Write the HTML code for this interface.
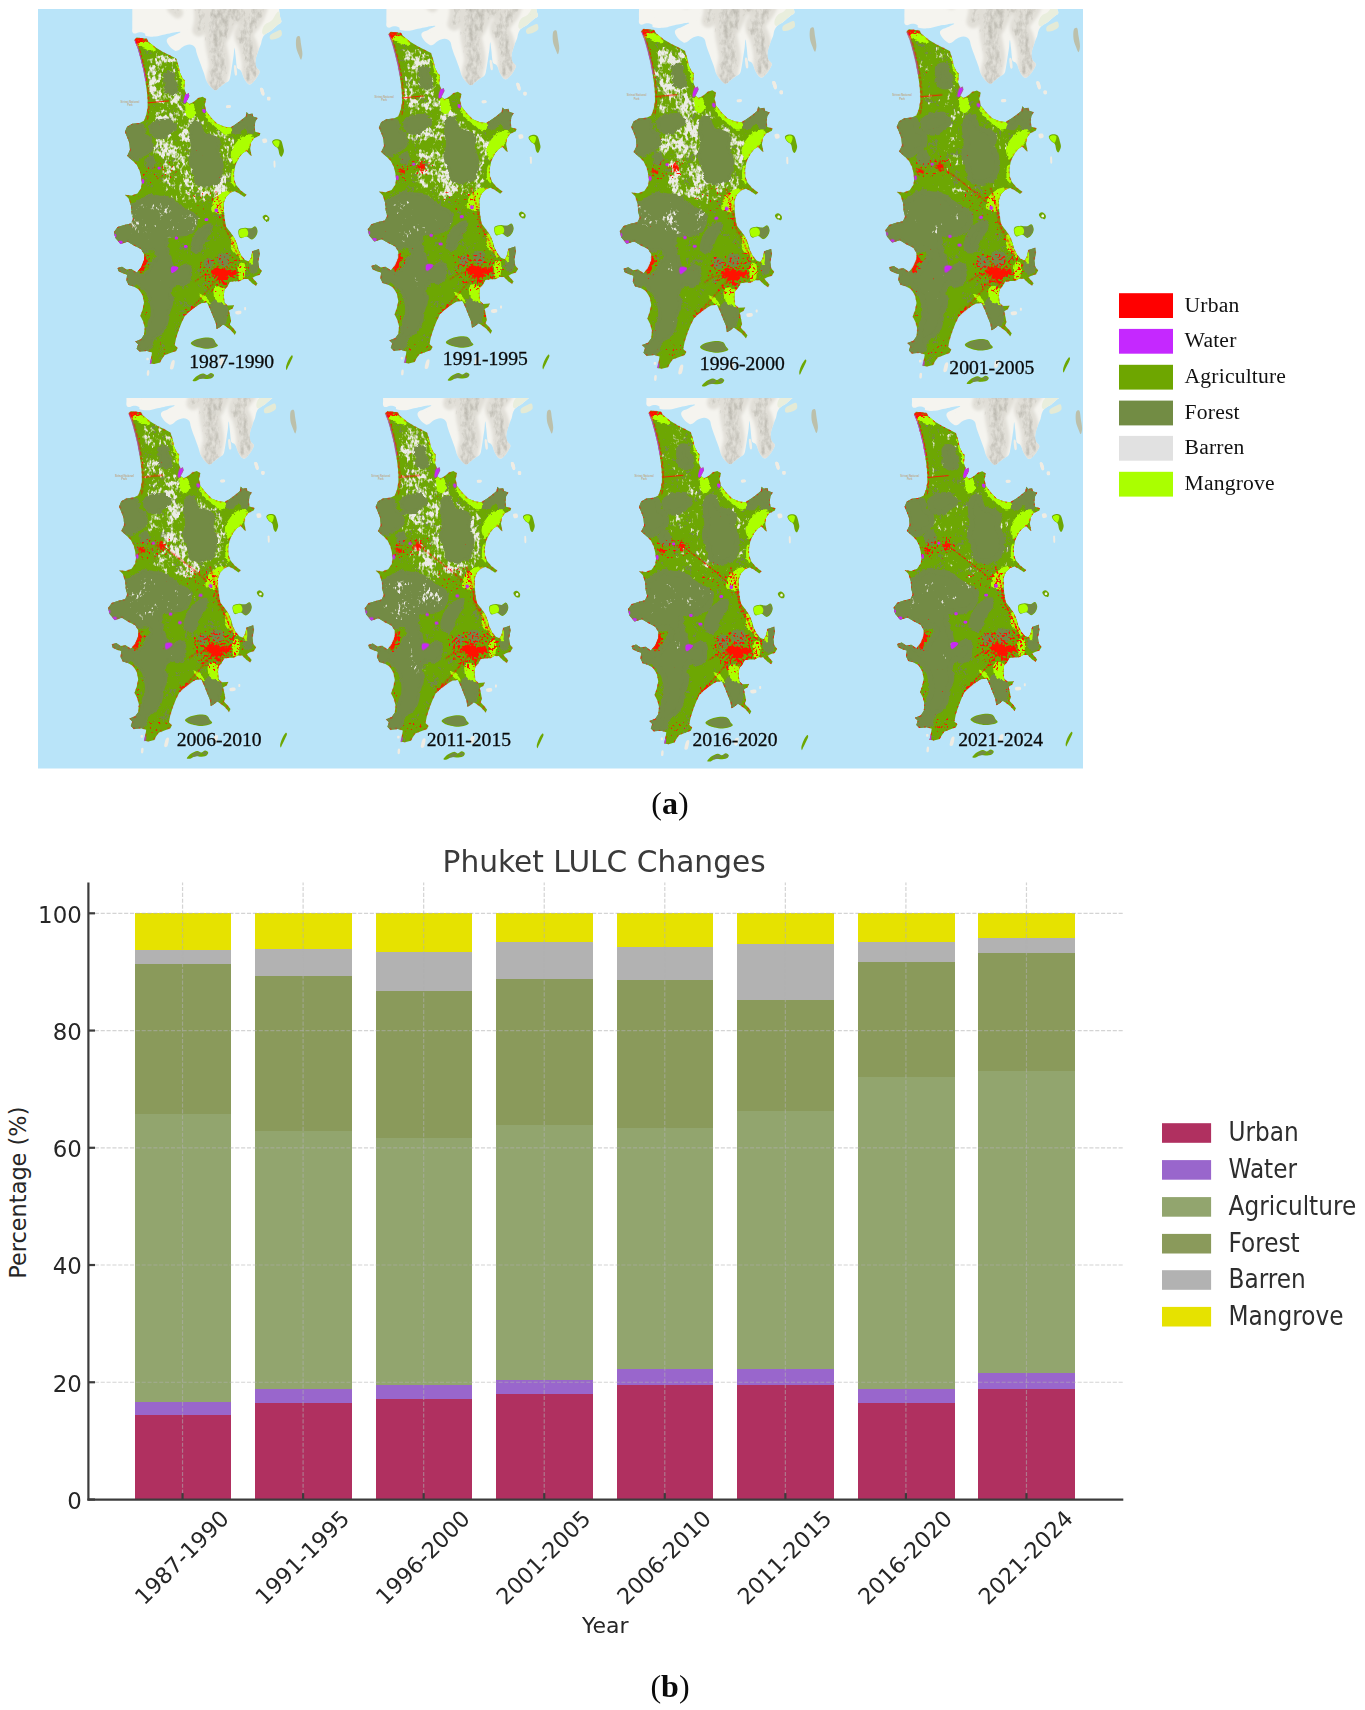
<!DOCTYPE html>
<html lang="en"><head><meta charset="utf-8"><title>Phuket LULC Changes</title>
<style>html,body{margin:0;padding:0;background:#fff}svg{display:block}</style></head><body>
<svg width="1365" height="1710" viewBox="0 0 1365 1710">
<defs>
<path id="outl" d="M134.4 40.0 136.6 37.6 146.9 38.8 148.4 41.7 155.7 47.6 163.0 52.0 170.3 55.6 176.2 58.6 178.4 65.2 179.9 72.5 182.8 78.4 185.0 80.5 184.2 88.6 186.4 94.5 188.6 93.0 189.4 95.9 186.4 101.8 189.4 104.0 193.8 101.8 198.2 98.1 202.6 96.7 206.2 98.9 204.8 104.7 206.2 111.3 211.4 117.9 217.2 123.8 224.5 126.7 230.4 127.4 236.3 123.8 241.4 120.1 245.8 116.4 246.5 112.1 248.7 114.2 252.4 113.5 253.1 116.4 257.5 117.9 255.3 121.6 254.6 126.7 255.3 131.8 260.4 133.3 259.7 135.5 253.8 138.4 250.9 142.8 250.2 148.7 251.6 156.0 249.5 154.5 246.5 150.9 242.9 153.1 239.2 157.5 235.5 164.8 234.1 172.1 234.1 179.5 236.3 185.3 240.7 190.4 246.5 194.8 244.3 197.0 239.2 193.4 234.8 191.2 230.4 192.6 226.0 197.0 223.8 202.9 223.8 208.8 224.5 217.6 226.0 226.4 230.4 232.2 234.1 237.4 237.0 244.0 238.5 249.8 241.4 255.7 245.1 260.1 248.7 261.5 250.9 257.9 252.4 251.3 259.0 249.1 259.7 254.2 258.2 261.5 259.0 267.4 261.9 271.1 259.7 274.7 255.3 276.2 252.4 277.7 257.5 283.5 256.0 285.7 252.4 283.5 248.0 279.1 243.6 279.1 239.2 281.3 234.8 281.3 229.7 282.1 227.5 286.4 224.5 289.4 223.8 295.2 224.5 302.6 227.5 305.5 234.1 305.2 232.6 308.4 228.9 310.6 230.4 317.2 231.1 321.6 229.7 324.5 232.6 327.5 236.3 331.9 234.8 334.8 231.1 330.4 227.5 327.5 223.1 324.5 219.4 327.5 216.5 328.9 215.8 323.1 212.8 315.8 209.9 308.4 207.0 302.6 201.1 303.3 195.2 307.0 189.4 311.4 185.0 315.8 182.1 321.6 179.1 328.9 176.2 337.7 174.7 345.1 177.7 348.0 176.2 350.9 170.3 353.1 164.5 355.3 161.5 359.7 160.1 362.6 154.2 364.1 149.8 363.4 151.3 356.8 152.0 352.4 146.9 350.9 139.6 351.6 136.6 348.7 138.1 344.3 135.2 341.4 141.0 339.2 144.0 334.8 144.7 327.5 143.2 321.6 140.3 315.8 142.5 309.9 144.0 302.6 142.5 295.2 138.8 289.4 133.7 286.4 128.6 285.0 126.4 280.6 127.1 274.7 122.7 273.3 118.3 271.1 117.6 268.1 122.0 266.7 126.4 269.6 131.5 268.9 136.6 272.5 141.0 267.4 144.0 260.1 144.0 254.2 141.0 249.1 133.7 245.4 127.8 241.8 120.5 244.0 115.4 238.1 113.9 232.2 117.6 227.1 124.2 224.9 130.8 223.4 133.0 219.0 131.5 213.2 131.1 205.9 128.6 198.5 124.9 194.8 131.5 195.6 137.4 193.4 141.0 188.2 141.8 182.4 141.0 176.5 139.6 170.7 136.6 164.8 133.0 161.1 127.1 156.0 130.0 150.1 129.3 142.8 127.1 137.0 124.9 131.8 127.1 126.7 132.2 123.8 139.6 123.0 144.0 120.8 146.2 115.0 147.6 107.7 147.6 100.3 146.9 91.5 145.4 81.3 143.2 69.6 140.3 57.8 137.4 47.6Z"/>
<clipPath id="isl"><use href="#outl"/></clipPath>
<filter id="rough" filterUnits="userSpaceOnUse" x="95" y="20" width="220" height="370" color-interpolation-filters="sRGB">
<feTurbulence type="fractalNoise" baseFrequency="0.25" numOctaves="2" seed="2" result="n"/>
<feDisplacementMap in="SourceGraphic" in2="n" scale="4" xChannelSelector="R" yChannelSelector="G"/></filter>
<filter id="rough2" filterUnits="userSpaceOnUse" x="95" y="20" width="220" height="370" color-interpolation-filters="sRGB">
<feTurbulence type="fractalNoise" baseFrequency="0.35" numOctaves="2" seed="9" result="n"/>
<feDisplacementMap in="SourceGraphic" in2="n" scale="9" xChannelSelector="R" yChannelSelector="G"/></filter>
<filter id="blur1" x="-20%" y="-20%" width="140%" height="140%"><feGaussianBlur stdDeviation="1.6"/></filter>
<filter id="blur2" x="-20%" y="-20%" width="140%" height="140%"><feGaussianBlur stdDeviation="0.5"/></filter>
<filter id="bar0" filterUnits="userSpaceOnUse" x="95" y="20" width="220" height="370" color-interpolation-filters="sRGB">
<feGaussianBlur in="SourceAlpha" stdDeviation="3" result="s"/>
<feTurbulence type="fractalNoise" baseFrequency="0.34 0.24" numOctaves="2" seed="3" result="hi"/>
<feTurbulence type="fractalNoise" baseFrequency="0.07" numOctaves="2" seed="53" result="lo"/>
<feComposite in="hi" in2="lo" operator="arithmetic" k1="0" k2="0.5" k3="0.5" k4="0" result="m"/>
<feComposite in="m" in2="s" operator="arithmetic" k1="0" k2="1" k3="0.330" k4="-0.800" result="c"/>
<feColorMatrix in="c" type="matrix" values="0 0 0 0 0.922 0 0 0 0 0.922 0 0 0 0 0.898 0 0 0 8 0"/></filter>
<filter id="barf0" filterUnits="userSpaceOnUse" x="95" y="20" width="220" height="370" color-interpolation-filters="sRGB">
<feGaussianBlur in="SourceAlpha" stdDeviation="3" result="s"/>
<feTurbulence type="fractalNoise" baseFrequency="0.4 0.28" numOctaves="2" seed="6" result="hi"/>
<feTurbulence type="fractalNoise" baseFrequency="0.07" numOctaves="2" seed="56" result="lo"/>
<feComposite in="hi" in2="lo" operator="arithmetic" k1="0" k2="0.5" k3="0.5" k4="0" result="m"/>
<feComposite in="m" in2="s" operator="arithmetic" k1="0" k2="1" k3="0.200" k4="-0.800" result="c"/>
<feColorMatrix in="c" type="matrix" values="0 0 0 0 0.922 0 0 0 0 0.922 0 0 0 0 0.898 0 0 0 9 0"/></filter>
<filter id="fsp0" filterUnits="userSpaceOnUse" x="95" y="20" width="220" height="370" color-interpolation-filters="sRGB">
<feGaussianBlur in="SourceAlpha" stdDeviation="2" result="s"/>
<feTurbulence type="fractalNoise" baseFrequency="0.45 0.4" numOctaves="2" seed="8" result="hi"/>
<feTurbulence type="fractalNoise" baseFrequency="0.09" numOctaves="2" seed="58" result="lo"/>
<feComposite in="hi" in2="lo" operator="arithmetic" k1="0" k2="0.5" k3="0.5" k4="0" result="m"/>
<feComposite in="m" in2="s" operator="arithmetic" k1="0" k2="1" k3="0.200" k4="-0.800" result="c"/>
<feColorMatrix in="c" type="matrix" values="0 0 0 0 0.451 0 0 0 0 0.545 0 0 0 0 0.271 0 0 0 14 0"/></filter>
<filter id="urb0" filterUnits="userSpaceOnUse" x="95" y="20" width="220" height="370" color-interpolation-filters="sRGB">
<feGaussianBlur in="SourceAlpha" stdDeviation="2.2" result="s"/>
<feTurbulence type="fractalNoise" baseFrequency="0.42" numOctaves="2" seed="4" result="hi"/>
<feComposite in="hi" in2="s" operator="arithmetic" k1="0" k2="1" k3="0.260" k4="-0.850" result="c"/>
<feColorMatrix in="c" type="matrix" values="0 0 0 0 1.000 0 0 0 0 0.071 0 0 0 0 0.000 0 0 0 14 0"/></filter>
<filter id="bar1" filterUnits="userSpaceOnUse" x="95" y="20" width="220" height="370" color-interpolation-filters="sRGB">
<feGaussianBlur in="SourceAlpha" stdDeviation="3" result="s"/>
<feTurbulence type="fractalNoise" baseFrequency="0.34 0.24" numOctaves="2" seed="7" result="hi"/>
<feTurbulence type="fractalNoise" baseFrequency="0.07" numOctaves="2" seed="57" result="lo"/>
<feComposite in="hi" in2="lo" operator="arithmetic" k1="0" k2="0.5" k3="0.5" k4="0" result="m"/>
<feComposite in="m" in2="s" operator="arithmetic" k1="0" k2="1" k3="0.320" k4="-0.800" result="c"/>
<feColorMatrix in="c" type="matrix" values="0 0 0 0 0.922 0 0 0 0 0.922 0 0 0 0 0.898 0 0 0 8 0"/></filter>
<filter id="barf1" filterUnits="userSpaceOnUse" x="95" y="20" width="220" height="370" color-interpolation-filters="sRGB">
<feGaussianBlur in="SourceAlpha" stdDeviation="3" result="s"/>
<feTurbulence type="fractalNoise" baseFrequency="0.4 0.28" numOctaves="2" seed="10" result="hi"/>
<feTurbulence type="fractalNoise" baseFrequency="0.07" numOctaves="2" seed="60" result="lo"/>
<feComposite in="hi" in2="lo" operator="arithmetic" k1="0" k2="0.5" k3="0.5" k4="0" result="m"/>
<feComposite in="m" in2="s" operator="arithmetic" k1="0" k2="1" k3="0.160" k4="-0.800" result="c"/>
<feColorMatrix in="c" type="matrix" values="0 0 0 0 0.922 0 0 0 0 0.922 0 0 0 0 0.898 0 0 0 9 0"/></filter>
<filter id="fsp1" filterUnits="userSpaceOnUse" x="95" y="20" width="220" height="370" color-interpolation-filters="sRGB">
<feGaussianBlur in="SourceAlpha" stdDeviation="2" result="s"/>
<feTurbulence type="fractalNoise" baseFrequency="0.45 0.4" numOctaves="2" seed="12" result="hi"/>
<feTurbulence type="fractalNoise" baseFrequency="0.09" numOctaves="2" seed="62" result="lo"/>
<feComposite in="hi" in2="lo" operator="arithmetic" k1="0" k2="0.5" k3="0.5" k4="0" result="m"/>
<feComposite in="m" in2="s" operator="arithmetic" k1="0" k2="1" k3="0.200" k4="-0.800" result="c"/>
<feColorMatrix in="c" type="matrix" values="0 0 0 0 0.451 0 0 0 0 0.545 0 0 0 0 0.271 0 0 0 14 0"/></filter>
<filter id="urb1" filterUnits="userSpaceOnUse" x="95" y="20" width="220" height="370" color-interpolation-filters="sRGB">
<feGaussianBlur in="SourceAlpha" stdDeviation="2.2" result="s"/>
<feTurbulence type="fractalNoise" baseFrequency="0.42" numOctaves="2" seed="8" result="hi"/>
<feComposite in="hi" in2="s" operator="arithmetic" k1="0" k2="1" k3="0.280" k4="-0.850" result="c"/>
<feColorMatrix in="c" type="matrix" values="0 0 0 0 1.000 0 0 0 0 0.071 0 0 0 0 0.000 0 0 0 14 0"/></filter>
<filter id="bar2" filterUnits="userSpaceOnUse" x="95" y="20" width="220" height="370" color-interpolation-filters="sRGB">
<feGaussianBlur in="SourceAlpha" stdDeviation="3" result="s"/>
<feTurbulence type="fractalNoise" baseFrequency="0.34 0.24" numOctaves="2" seed="11" result="hi"/>
<feTurbulence type="fractalNoise" baseFrequency="0.07" numOctaves="2" seed="61" result="lo"/>
<feComposite in="hi" in2="lo" operator="arithmetic" k1="0" k2="0.5" k3="0.5" k4="0" result="m"/>
<feComposite in="m" in2="s" operator="arithmetic" k1="0" k2="1" k3="0.350" k4="-0.800" result="c"/>
<feColorMatrix in="c" type="matrix" values="0 0 0 0 0.922 0 0 0 0 0.922 0 0 0 0 0.898 0 0 0 8 0"/></filter>
<filter id="barf2" filterUnits="userSpaceOnUse" x="95" y="20" width="220" height="370" color-interpolation-filters="sRGB">
<feGaussianBlur in="SourceAlpha" stdDeviation="3" result="s"/>
<feTurbulence type="fractalNoise" baseFrequency="0.4 0.28" numOctaves="2" seed="14" result="hi"/>
<feTurbulence type="fractalNoise" baseFrequency="0.07" numOctaves="2" seed="64" result="lo"/>
<feComposite in="hi" in2="lo" operator="arithmetic" k1="0" k2="0.5" k3="0.5" k4="0" result="m"/>
<feComposite in="m" in2="s" operator="arithmetic" k1="0" k2="1" k3="0.200" k4="-0.800" result="c"/>
<feColorMatrix in="c" type="matrix" values="0 0 0 0 0.922 0 0 0 0 0.922 0 0 0 0 0.898 0 0 0 9 0"/></filter>
<filter id="fsp2" filterUnits="userSpaceOnUse" x="95" y="20" width="220" height="370" color-interpolation-filters="sRGB">
<feGaussianBlur in="SourceAlpha" stdDeviation="2" result="s"/>
<feTurbulence type="fractalNoise" baseFrequency="0.45 0.4" numOctaves="2" seed="16" result="hi"/>
<feTurbulence type="fractalNoise" baseFrequency="0.09" numOctaves="2" seed="66" result="lo"/>
<feComposite in="hi" in2="lo" operator="arithmetic" k1="0" k2="0.5" k3="0.5" k4="0" result="m"/>
<feComposite in="m" in2="s" operator="arithmetic" k1="0" k2="1" k3="0.200" k4="-0.800" result="c"/>
<feColorMatrix in="c" type="matrix" values="0 0 0 0 0.451 0 0 0 0 0.545 0 0 0 0 0.271 0 0 0 14 0"/></filter>
<filter id="urb2" filterUnits="userSpaceOnUse" x="95" y="20" width="220" height="370" color-interpolation-filters="sRGB">
<feGaussianBlur in="SourceAlpha" stdDeviation="2.2" result="s"/>
<feTurbulence type="fractalNoise" baseFrequency="0.42" numOctaves="2" seed="12" result="hi"/>
<feComposite in="hi" in2="s" operator="arithmetic" k1="0" k2="1" k3="0.280" k4="-0.850" result="c"/>
<feColorMatrix in="c" type="matrix" values="0 0 0 0 1.000 0 0 0 0 0.071 0 0 0 0 0.000 0 0 0 14 0"/></filter>
<filter id="bar3" filterUnits="userSpaceOnUse" x="95" y="20" width="220" height="370" color-interpolation-filters="sRGB">
<feGaussianBlur in="SourceAlpha" stdDeviation="3" result="s"/>
<feTurbulence type="fractalNoise" baseFrequency="0.34 0.24" numOctaves="2" seed="15" result="hi"/>
<feTurbulence type="fractalNoise" baseFrequency="0.07" numOctaves="2" seed="65" result="lo"/>
<feComposite in="hi" in2="lo" operator="arithmetic" k1="0" k2="0.5" k3="0.5" k4="0" result="m"/>
<feComposite in="m" in2="s" operator="arithmetic" k1="0" k2="1" k3="0.180" k4="-0.800" result="c"/>
<feColorMatrix in="c" type="matrix" values="0 0 0 0 0.922 0 0 0 0 0.922 0 0 0 0 0.898 0 0 0 8 0"/></filter>
<filter id="barf3" filterUnits="userSpaceOnUse" x="95" y="20" width="220" height="370" color-interpolation-filters="sRGB">
<feGaussianBlur in="SourceAlpha" stdDeviation="3" result="s"/>
<feTurbulence type="fractalNoise" baseFrequency="0.4 0.28" numOctaves="2" seed="18" result="hi"/>
<feTurbulence type="fractalNoise" baseFrequency="0.07" numOctaves="2" seed="68" result="lo"/>
<feComposite in="hi" in2="lo" operator="arithmetic" k1="0" k2="0.5" k3="0.5" k4="0" result="m"/>
<feComposite in="m" in2="s" operator="arithmetic" k1="0" k2="1" k3="0.140" k4="-0.800" result="c"/>
<feColorMatrix in="c" type="matrix" values="0 0 0 0 0.922 0 0 0 0 0.922 0 0 0 0 0.898 0 0 0 9 0"/></filter>
<filter id="fsp3" filterUnits="userSpaceOnUse" x="95" y="20" width="220" height="370" color-interpolation-filters="sRGB">
<feGaussianBlur in="SourceAlpha" stdDeviation="2" result="s"/>
<feTurbulence type="fractalNoise" baseFrequency="0.45 0.4" numOctaves="2" seed="20" result="hi"/>
<feTurbulence type="fractalNoise" baseFrequency="0.09" numOctaves="2" seed="70" result="lo"/>
<feComposite in="hi" in2="lo" operator="arithmetic" k1="0" k2="0.5" k3="0.5" k4="0" result="m"/>
<feComposite in="m" in2="s" operator="arithmetic" k1="0" k2="1" k3="0.200" k4="-0.800" result="c"/>
<feColorMatrix in="c" type="matrix" values="0 0 0 0 0.451 0 0 0 0 0.545 0 0 0 0 0.271 0 0 0 14 0"/></filter>
<filter id="urb3" filterUnits="userSpaceOnUse" x="95" y="20" width="220" height="370" color-interpolation-filters="sRGB">
<feGaussianBlur in="SourceAlpha" stdDeviation="2.2" result="s"/>
<feTurbulence type="fractalNoise" baseFrequency="0.42" numOctaves="2" seed="16" result="hi"/>
<feComposite in="hi" in2="s" operator="arithmetic" k1="0" k2="1" k3="0.300" k4="-0.850" result="c"/>
<feColorMatrix in="c" type="matrix" values="0 0 0 0 1.000 0 0 0 0 0.071 0 0 0 0 0.000 0 0 0 14 0"/></filter>
<filter id="bar4" filterUnits="userSpaceOnUse" x="95" y="20" width="220" height="370" color-interpolation-filters="sRGB">
<feGaussianBlur in="SourceAlpha" stdDeviation="3" result="s"/>
<feTurbulence type="fractalNoise" baseFrequency="0.34 0.24" numOctaves="2" seed="19" result="hi"/>
<feTurbulence type="fractalNoise" baseFrequency="0.07" numOctaves="2" seed="69" result="lo"/>
<feComposite in="hi" in2="lo" operator="arithmetic" k1="0" k2="0.5" k3="0.5" k4="0" result="m"/>
<feComposite in="m" in2="s" operator="arithmetic" k1="0" k2="1" k3="0.310" k4="-0.800" result="c"/>
<feColorMatrix in="c" type="matrix" values="0 0 0 0 0.922 0 0 0 0 0.922 0 0 0 0 0.898 0 0 0 8 0"/></filter>
<filter id="barf4" filterUnits="userSpaceOnUse" x="95" y="20" width="220" height="370" color-interpolation-filters="sRGB">
<feGaussianBlur in="SourceAlpha" stdDeviation="3" result="s"/>
<feTurbulence type="fractalNoise" baseFrequency="0.4 0.28" numOctaves="2" seed="22" result="hi"/>
<feTurbulence type="fractalNoise" baseFrequency="0.07" numOctaves="2" seed="72" result="lo"/>
<feComposite in="hi" in2="lo" operator="arithmetic" k1="0" k2="0.5" k3="0.5" k4="0" result="m"/>
<feComposite in="m" in2="s" operator="arithmetic" k1="0" k2="1" k3="0.170" k4="-0.800" result="c"/>
<feColorMatrix in="c" type="matrix" values="0 0 0 0 0.922 0 0 0 0 0.922 0 0 0 0 0.898 0 0 0 9 0"/></filter>
<filter id="fsp4" filterUnits="userSpaceOnUse" x="95" y="20" width="220" height="370" color-interpolation-filters="sRGB">
<feGaussianBlur in="SourceAlpha" stdDeviation="2" result="s"/>
<feTurbulence type="fractalNoise" baseFrequency="0.45 0.4" numOctaves="2" seed="24" result="hi"/>
<feTurbulence type="fractalNoise" baseFrequency="0.09" numOctaves="2" seed="74" result="lo"/>
<feComposite in="hi" in2="lo" operator="arithmetic" k1="0" k2="0.5" k3="0.5" k4="0" result="m"/>
<feComposite in="m" in2="s" operator="arithmetic" k1="0" k2="1" k3="0.200" k4="-0.800" result="c"/>
<feColorMatrix in="c" type="matrix" values="0 0 0 0 0.451 0 0 0 0 0.545 0 0 0 0 0.271 0 0 0 14 0"/></filter>
<filter id="urb4" filterUnits="userSpaceOnUse" x="95" y="20" width="220" height="370" color-interpolation-filters="sRGB">
<feGaussianBlur in="SourceAlpha" stdDeviation="2.2" result="s"/>
<feTurbulence type="fractalNoise" baseFrequency="0.42" numOctaves="2" seed="20" result="hi"/>
<feComposite in="hi" in2="s" operator="arithmetic" k1="0" k2="1" k3="0.310" k4="-0.850" result="c"/>
<feColorMatrix in="c" type="matrix" values="0 0 0 0 1.000 0 0 0 0 0.071 0 0 0 0 0.000 0 0 0 14 0"/></filter>
<filter id="bar5" filterUnits="userSpaceOnUse" x="95" y="20" width="220" height="370" color-interpolation-filters="sRGB">
<feGaussianBlur in="SourceAlpha" stdDeviation="3" result="s"/>
<feTurbulence type="fractalNoise" baseFrequency="0.34 0.24" numOctaves="2" seed="23" result="hi"/>
<feTurbulence type="fractalNoise" baseFrequency="0.07" numOctaves="2" seed="73" result="lo"/>
<feComposite in="hi" in2="lo" operator="arithmetic" k1="0" k2="0.5" k3="0.5" k4="0" result="m"/>
<feComposite in="m" in2="s" operator="arithmetic" k1="0" k2="1" k3="0.330" k4="-0.800" result="c"/>
<feColorMatrix in="c" type="matrix" values="0 0 0 0 0.922 0 0 0 0 0.922 0 0 0 0 0.898 0 0 0 8 0"/></filter>
<filter id="barf5" filterUnits="userSpaceOnUse" x="95" y="20" width="220" height="370" color-interpolation-filters="sRGB">
<feGaussianBlur in="SourceAlpha" stdDeviation="3" result="s"/>
<feTurbulence type="fractalNoise" baseFrequency="0.4 0.28" numOctaves="2" seed="26" result="hi"/>
<feTurbulence type="fractalNoise" baseFrequency="0.07" numOctaves="2" seed="76" result="lo"/>
<feComposite in="hi" in2="lo" operator="arithmetic" k1="0" k2="0.5" k3="0.5" k4="0" result="m"/>
<feComposite in="m" in2="s" operator="arithmetic" k1="0" k2="1" k3="0.240" k4="-0.800" result="c"/>
<feColorMatrix in="c" type="matrix" values="0 0 0 0 0.922 0 0 0 0 0.922 0 0 0 0 0.898 0 0 0 9 0"/></filter>
<filter id="fsp5" filterUnits="userSpaceOnUse" x="95" y="20" width="220" height="370" color-interpolation-filters="sRGB">
<feGaussianBlur in="SourceAlpha" stdDeviation="2" result="s"/>
<feTurbulence type="fractalNoise" baseFrequency="0.45 0.4" numOctaves="2" seed="28" result="hi"/>
<feTurbulence type="fractalNoise" baseFrequency="0.09" numOctaves="2" seed="78" result="lo"/>
<feComposite in="hi" in2="lo" operator="arithmetic" k1="0" k2="0.5" k3="0.5" k4="0" result="m"/>
<feComposite in="m" in2="s" operator="arithmetic" k1="0" k2="1" k3="0.200" k4="-0.800" result="c"/>
<feColorMatrix in="c" type="matrix" values="0 0 0 0 0.451 0 0 0 0 0.545 0 0 0 0 0.271 0 0 0 14 0"/></filter>
<filter id="urb5" filterUnits="userSpaceOnUse" x="95" y="20" width="220" height="370" color-interpolation-filters="sRGB">
<feGaussianBlur in="SourceAlpha" stdDeviation="2.2" result="s"/>
<feTurbulence type="fractalNoise" baseFrequency="0.42" numOctaves="2" seed="24" result="hi"/>
<feComposite in="hi" in2="s" operator="arithmetic" k1="0" k2="1" k3="0.330" k4="-0.850" result="c"/>
<feColorMatrix in="c" type="matrix" values="0 0 0 0 1.000 0 0 0 0 0.071 0 0 0 0 0.000 0 0 0 14 0"/></filter>
<filter id="bar6" filterUnits="userSpaceOnUse" x="95" y="20" width="220" height="370" color-interpolation-filters="sRGB">
<feGaussianBlur in="SourceAlpha" stdDeviation="3" result="s"/>
<feTurbulence type="fractalNoise" baseFrequency="0.34 0.24" numOctaves="2" seed="27" result="hi"/>
<feTurbulence type="fractalNoise" baseFrequency="0.07" numOctaves="2" seed="77" result="lo"/>
<feComposite in="hi" in2="lo" operator="arithmetic" k1="0" k2="0.5" k3="0.5" k4="0" result="m"/>
<feComposite in="m" in2="s" operator="arithmetic" k1="0" k2="1" k3="0.210" k4="-0.800" result="c"/>
<feColorMatrix in="c" type="matrix" values="0 0 0 0 0.922 0 0 0 0 0.922 0 0 0 0 0.898 0 0 0 8 0"/></filter>
<filter id="barf6" filterUnits="userSpaceOnUse" x="95" y="20" width="220" height="370" color-interpolation-filters="sRGB">
<feGaussianBlur in="SourceAlpha" stdDeviation="3" result="s"/>
<feTurbulence type="fractalNoise" baseFrequency="0.4 0.28" numOctaves="2" seed="30" result="hi"/>
<feTurbulence type="fractalNoise" baseFrequency="0.07" numOctaves="2" seed="80" result="lo"/>
<feComposite in="hi" in2="lo" operator="arithmetic" k1="0" k2="0.5" k3="0.5" k4="0" result="m"/>
<feComposite in="m" in2="s" operator="arithmetic" k1="0" k2="1" k3="0.170" k4="-0.800" result="c"/>
<feColorMatrix in="c" type="matrix" values="0 0 0 0 0.922 0 0 0 0 0.922 0 0 0 0 0.898 0 0 0 9 0"/></filter>
<filter id="fsp6" filterUnits="userSpaceOnUse" x="95" y="20" width="220" height="370" color-interpolation-filters="sRGB">
<feGaussianBlur in="SourceAlpha" stdDeviation="2" result="s"/>
<feTurbulence type="fractalNoise" baseFrequency="0.45 0.4" numOctaves="2" seed="32" result="hi"/>
<feTurbulence type="fractalNoise" baseFrequency="0.09" numOctaves="2" seed="82" result="lo"/>
<feComposite in="hi" in2="lo" operator="arithmetic" k1="0" k2="0.5" k3="0.5" k4="0" result="m"/>
<feComposite in="m" in2="s" operator="arithmetic" k1="0" k2="1" k3="0.200" k4="-0.800" result="c"/>
<feColorMatrix in="c" type="matrix" values="0 0 0 0 0.451 0 0 0 0 0.545 0 0 0 0 0.271 0 0 0 14 0"/></filter>
<filter id="urb6" filterUnits="userSpaceOnUse" x="95" y="20" width="220" height="370" color-interpolation-filters="sRGB">
<feGaussianBlur in="SourceAlpha" stdDeviation="2.2" result="s"/>
<feTurbulence type="fractalNoise" baseFrequency="0.42" numOctaves="2" seed="28" result="hi"/>
<feComposite in="hi" in2="s" operator="arithmetic" k1="0" k2="1" k3="0.330" k4="-0.850" result="c"/>
<feColorMatrix in="c" type="matrix" values="0 0 0 0 1.000 0 0 0 0 0.071 0 0 0 0 0.000 0 0 0 14 0"/></filter>
<filter id="bar7" filterUnits="userSpaceOnUse" x="95" y="20" width="220" height="370" color-interpolation-filters="sRGB">
<feGaussianBlur in="SourceAlpha" stdDeviation="3" result="s"/>
<feTurbulence type="fractalNoise" baseFrequency="0.34 0.24" numOctaves="2" seed="31" result="hi"/>
<feTurbulence type="fractalNoise" baseFrequency="0.07" numOctaves="2" seed="81" result="lo"/>
<feComposite in="hi" in2="lo" operator="arithmetic" k1="0" k2="0.5" k3="0.5" k4="0" result="m"/>
<feComposite in="m" in2="s" operator="arithmetic" k1="0" k2="1" k3="0.190" k4="-0.800" result="c"/>
<feColorMatrix in="c" type="matrix" values="0 0 0 0 0.922 0 0 0 0 0.922 0 0 0 0 0.898 0 0 0 8 0"/></filter>
<filter id="barf7" filterUnits="userSpaceOnUse" x="95" y="20" width="220" height="370" color-interpolation-filters="sRGB">
<feGaussianBlur in="SourceAlpha" stdDeviation="3" result="s"/>
<feTurbulence type="fractalNoise" baseFrequency="0.4 0.28" numOctaves="2" seed="34" result="hi"/>
<feTurbulence type="fractalNoise" baseFrequency="0.07" numOctaves="2" seed="84" result="lo"/>
<feComposite in="hi" in2="lo" operator="arithmetic" k1="0" k2="0.5" k3="0.5" k4="0" result="m"/>
<feComposite in="m" in2="s" operator="arithmetic" k1="0" k2="1" k3="0.160" k4="-0.800" result="c"/>
<feColorMatrix in="c" type="matrix" values="0 0 0 0 0.922 0 0 0 0 0.922 0 0 0 0 0.898 0 0 0 9 0"/></filter>
<filter id="fsp7" filterUnits="userSpaceOnUse" x="95" y="20" width="220" height="370" color-interpolation-filters="sRGB">
<feGaussianBlur in="SourceAlpha" stdDeviation="2" result="s"/>
<feTurbulence type="fractalNoise" baseFrequency="0.45 0.4" numOctaves="2" seed="36" result="hi"/>
<feTurbulence type="fractalNoise" baseFrequency="0.09" numOctaves="2" seed="86" result="lo"/>
<feComposite in="hi" in2="lo" operator="arithmetic" k1="0" k2="0.5" k3="0.5" k4="0" result="m"/>
<feComposite in="m" in2="s" operator="arithmetic" k1="0" k2="1" k3="0.200" k4="-0.800" result="c"/>
<feColorMatrix in="c" type="matrix" values="0 0 0 0 0.451 0 0 0 0 0.545 0 0 0 0 0.271 0 0 0 14 0"/></filter>
<filter id="urb7" filterUnits="userSpaceOnUse" x="95" y="20" width="220" height="370" color-interpolation-filters="sRGB">
<feGaussianBlur in="SourceAlpha" stdDeviation="2.2" result="s"/>
<feTurbulence type="fractalNoise" baseFrequency="0.42" numOctaves="2" seed="32" result="hi"/>
<feComposite in="hi" in2="s" operator="arithmetic" k1="0" k2="1" k3="0.330" k4="-0.850" result="c"/>
<feColorMatrix in="c" type="matrix" values="0 0 0 0 1.000 0 0 0 0 0.071 0 0 0 0 0.000 0 0 0 14 0"/></filter>
<filter id="hill" filterUnits="userSpaceOnUse" x="125" y="-10" width="190" height="120" color-interpolation-filters="sRGB">
<feGaussianBlur in="SourceAlpha" stdDeviation="2.2" result="s"/>
<feTurbulence type="fractalNoise" baseFrequency="0.28 0.16" numOctaves="3" seed="4" result="n"/>
<feComposite in="n" in2="s" operator="arithmetic" k1="0" k2="1" k3="0.55" k4="-0.82" result="c"/>
<feColorMatrix in="c" type="matrix" values="0 0 0 0 0.64 0 0 0 0 0.63 0 0 0 0 0.59 0 0 0 1.0 0"/></filter>
<clipPath id="mainclip"><path d="M132.3 -6.9C103.2 -5.3 132.3 -2.4 132.3 1.0C132.3 4.5 132.3 6.6 132.3 10.3C132.3 14.0 132.3 16.1 132.3 19.5C132.3 22.9 132.2 24.9 132.3 27.4C132.3 29.9 131.9 30.8 132.4 32.0C132.9 33.3 133.5 33.6 134.9 33.6C136.3 33.6 137.5 32.2 139.5 32.2C141.5 32.1 143.5 32.6 144.8 33.4C146.1 34.1 144.0 35.3 146.1 36.0C148.2 36.6 151.9 36.9 155.3 36.6C158.8 36.4 160.3 35.5 163.2 34.8C166.1 34.1 166.4 33.9 169.8 33.4C173.3 32.8 179.6 31.5 180.4 31.9C181.2 32.4 176.4 34.2 173.8 35.6C171.2 37.0 168.3 37.2 167.2 39.0C166.1 40.8 167.0 42.4 168.3 44.6C169.5 46.7 171.6 48.6 173.5 49.8C175.4 51.1 175.9 51.3 177.7 50.6C179.6 50.0 180.7 47.9 183.0 46.7C185.4 45.5 187.2 44.5 189.6 44.6C192.0 44.7 193.4 45.4 194.9 47.2C196.3 49.0 195.8 50.6 196.9 53.8C197.9 57.0 198.7 59.1 200.2 63.0C201.6 67.0 202.8 69.9 204.1 73.6C205.4 77.3 205.2 78.6 206.8 81.5C208.3 84.4 210.2 86.3 212.0 88.1C213.9 89.8 214.4 90.4 216.0 90.2C217.6 90.0 218.1 88.4 219.9 87.0C221.8 85.6 223.4 84.4 225.2 83.1C227.1 81.7 228.1 82.1 229.2 80.2C230.3 78.3 230.1 77.0 230.8 73.6C231.4 70.1 231.9 66.7 232.5 63.0C233.1 59.3 233.3 58.1 233.7 55.1C234.1 52.1 234.1 47.9 234.5 47.9C234.8 47.9 235.1 51.8 235.5 55.1C235.9 58.4 236.1 61.7 236.4 64.3C236.8 67.0 236.4 67.0 237.4 68.3C238.3 69.6 239.7 68.8 241.0 70.9C242.4 73.0 242.8 76.2 244.3 78.8C245.9 81.5 247.1 83.8 249.0 84.4C250.8 85.0 251.7 83.6 253.6 81.8C255.4 79.9 257.0 77.3 258.2 75.2C259.4 73.0 259.9 72.6 259.5 70.9C259.1 69.3 257.1 69.1 256.3 67.0C255.6 64.9 255.2 63.6 255.6 60.4C255.9 57.2 257.1 54.3 258.2 51.2C259.2 48.0 260.0 46.9 260.8 44.6C261.6 42.2 261.4 41.2 262.1 39.3C262.9 37.3 263.2 36.4 264.8 34.8C266.4 33.2 268.3 32.6 270.1 31.4C271.8 30.2 271.8 30.1 273.4 28.7C274.9 27.4 276.4 26.1 278.0 24.8C279.6 23.5 280.9 23.6 281.4 22.1C281.9 20.7 280.7 19.4 280.3 17.5C280.0 15.7 279.9 15.4 279.6 12.9C279.2 10.4 278.9 7.6 278.6 5.0C278.3 2.4 278.2 2.1 278.0 -0.3C277.8 -2.6 306.9 -5.5 277.7 -6.9C248.6 -8.2 161.3 -8.5 132.3 -6.9Z"/></clipPath>
<g id="main">
<path d="M132.3 -6.9C103.2 -5.3 132.3 -2.4 132.3 1.0C132.3 4.5 132.3 6.6 132.3 10.3C132.3 14.0 132.3 16.1 132.3 19.5C132.3 22.9 132.2 24.9 132.3 27.4C132.3 29.9 131.9 30.8 132.4 32.0C132.9 33.3 133.5 33.6 134.9 33.6C136.3 33.6 137.5 32.2 139.5 32.2C141.5 32.1 143.5 32.6 144.8 33.4C146.1 34.1 144.0 35.3 146.1 36.0C148.2 36.6 151.9 36.9 155.3 36.6C158.8 36.4 160.3 35.5 163.2 34.8C166.1 34.1 166.4 33.9 169.8 33.4C173.3 32.8 179.6 31.5 180.4 31.9C181.2 32.4 176.4 34.2 173.8 35.6C171.2 37.0 168.3 37.2 167.2 39.0C166.1 40.8 167.0 42.4 168.3 44.6C169.5 46.7 171.6 48.6 173.5 49.8C175.4 51.1 175.9 51.3 177.7 50.6C179.6 50.0 180.7 47.9 183.0 46.7C185.4 45.5 187.2 44.5 189.6 44.6C192.0 44.7 193.4 45.4 194.9 47.2C196.3 49.0 195.8 50.6 196.9 53.8C197.9 57.0 198.7 59.1 200.2 63.0C201.6 67.0 202.8 69.9 204.1 73.6C205.4 77.3 205.2 78.6 206.8 81.5C208.3 84.4 210.2 86.3 212.0 88.1C213.9 89.8 214.4 90.4 216.0 90.2C217.6 90.0 218.1 88.4 219.9 87.0C221.8 85.6 223.4 84.4 225.2 83.1C227.1 81.7 228.1 82.1 229.2 80.2C230.3 78.3 230.1 77.0 230.8 73.6C231.4 70.1 231.9 66.7 232.5 63.0C233.1 59.3 233.3 58.1 233.7 55.1C234.1 52.1 234.1 47.9 234.5 47.9C234.8 47.9 235.1 51.8 235.5 55.1C235.9 58.4 236.1 61.7 236.4 64.3C236.8 67.0 236.4 67.0 237.4 68.3C238.3 69.6 239.7 68.8 241.0 70.9C242.4 73.0 242.8 76.2 244.3 78.8C245.9 81.5 247.1 83.8 249.0 84.4C250.8 85.0 251.7 83.6 253.6 81.8C255.4 79.9 257.0 77.3 258.2 75.2C259.4 73.0 259.9 72.6 259.5 70.9C259.1 69.3 257.1 69.1 256.3 67.0C255.6 64.9 255.2 63.6 255.6 60.4C255.9 57.2 257.1 54.3 258.2 51.2C259.2 48.0 260.0 46.9 260.8 44.6C261.6 42.2 261.4 41.2 262.1 39.3C262.9 37.3 263.2 36.4 264.8 34.8C266.4 33.2 268.3 32.6 270.1 31.4C271.8 30.2 271.8 30.1 273.4 28.7C274.9 27.4 276.4 26.1 278.0 24.8C279.6 23.5 280.9 23.6 281.4 22.1C281.9 20.7 280.7 19.4 280.3 17.5C280.0 15.7 279.9 15.4 279.6 12.9C279.2 10.4 278.9 7.6 278.6 5.0C278.3 2.4 278.2 2.1 278.0 -0.3C277.8 -2.6 306.9 -5.5 277.7 -6.9C248.6 -8.2 161.3 -8.5 132.3 -6.9Z" fill="#f5f4ef"/>
<g clip-path="url(#mainclip)">
<path d="M262.1 32.0C262.1 30.0 262.9 27.0 264.8 24.8C266.6 22.5 269.0 23.2 271.4 20.8C273.8 18.5 275.0 14.5 276.7 12.9C278.3 11.3 278.6 11.1 279.6 12.9C280.5 14.8 281.7 19.8 281.4 22.1C281.1 24.5 279.6 23.5 278.0 24.8C276.4 26.1 274.9 27.4 273.4 28.7C271.8 30.1 271.8 30.2 270.1 31.4C268.3 32.6 266.4 34.7 264.8 34.8C263.2 34.9 262.1 34.0 262.1 32.0Z" fill="#e9eedd"/>
<g filter="url(#blur1)" fill="none" stroke-linecap="round" stroke-linejoin="round" stroke="#dcdad2" stroke-opacity="0.8">
<path d="M217.3 7.6C217.2 10.3 217.0 15.5 216.7 20.8C216.3 26.1 215.5 29.3 215.3 34.0C215.2 38.8 215.5 40.3 216.0 44.6C216.5 48.8 217.3 50.9 218.0 55.1C218.6 59.3 219.4 61.4 219.3 65.7C219.2 69.9 218.0 72.3 217.3 76.2C216.7 80.2 216.3 83.6 216.0 85.4" stroke-width="21"/>
<path d="M230.5 7.6C230.2 9.7 230.2 14.2 229.2 18.2C228.1 22.1 226.8 24.0 225.2 27.4C223.6 30.8 222.1 33.7 221.3 35.3" stroke-width="17"/>
<path d="M258.2 7.6C257.4 9.7 256.3 14.2 254.2 18.2C252.1 22.1 249.8 24.0 247.6 27.4C245.5 30.8 243.7 31.9 243.7 35.3C243.7 38.8 246.3 40.6 247.6 44.6C249.0 48.5 249.5 50.9 250.3 55.1C251.1 59.3 251.5 61.4 251.6 65.7C251.7 69.9 251.1 74.1 250.9 76.2" stroke-width="19"/>
<path d="M200.2 7.6C200.3 10.0 201.1 15.0 200.8 19.5C200.6 24.0 199.2 27.9 198.8 30.1" stroke-width="13"/>
<path d="M172.5 8.3 177.7 12.9" stroke-width="11"/>
<path d="M241.0 7.6 239.1 16.9" stroke-width="15"/>
</g>
<g filter="url(#hill)" fill="none" stroke="#000" stroke-linecap="round" stroke-linejoin="round">
<path d="M217.3 7.6C217.2 10.3 217.0 15.5 216.7 20.8C216.3 26.1 215.5 29.3 215.3 34.0C215.2 38.8 215.5 40.3 216.0 44.6C216.5 48.8 217.3 50.9 218.0 55.1C218.6 59.3 219.4 61.4 219.3 65.7C219.2 69.9 218.0 72.3 217.3 76.2C216.7 80.2 216.3 83.6 216.0 85.4" stroke-width="15"/>
<path d="M230.5 7.6C230.2 9.7 230.2 14.2 229.2 18.2C228.1 22.1 226.8 24.0 225.2 27.4C223.6 30.8 222.1 33.7 221.3 35.3" stroke-width="11"/>
<path d="M258.2 7.6C257.4 9.7 256.3 14.2 254.2 18.2C252.1 22.1 249.8 24.0 247.6 27.4C245.5 30.8 243.7 31.9 243.7 35.3C243.7 38.8 246.3 40.6 247.6 44.6C249.0 48.5 249.5 50.9 250.3 55.1C251.1 59.3 251.5 61.4 251.6 65.7C251.7 69.9 251.1 74.1 250.9 76.2" stroke-width="13"/>
<path d="M200.2 7.6C200.3 10.0 201.1 15.0 200.8 19.5C200.6 24.0 199.2 27.9 198.8 30.1" stroke-width="7"/>
<path d="M172.5 8.3 177.7 12.9" stroke-width="5"/>
<path d="M241.0 7.6 239.1 16.9" stroke-width="9"/>
</g></g>
<path d="M270.1 35.3C270.8 34.1 273.6 32.9 275.3 32.0C277.1 31.2 279.6 29.5 280.6 30.1C281.7 30.6 282.3 33.9 281.7 35.3C281.0 36.8 278.5 37.9 276.7 38.6C274.8 39.3 271.8 40.1 270.7 39.6C269.6 39.0 269.3 36.6 270.1 35.3Z" fill="#e4ead6"/>
<path d="M296.4 38.0C297.0 36.2 299.0 35.6 299.7 36.6C300.5 37.7 300.6 41.7 301.1 44.6C301.5 47.4 302.4 51.3 302.4 53.8C302.4 56.3 301.6 59.5 301.1 59.7C300.5 59.9 299.6 57.2 298.8 55.1C298.0 53.0 296.6 50.1 296.2 47.2C295.8 44.3 295.8 39.7 296.4 38.0Z" fill="#bcc0ab"/>
<path d="M260.2 88.7C260.3 87.6 262.1 87.4 262.8 88.3C263.5 89.3 264.6 93.2 264.5 94.4C264.4 95.6 262.9 96.3 262.1 95.3C261.4 94.4 260.1 89.9 260.2 88.7Z" fill="#f1eee6"/>
<path d="M267.4 97.3C267.9 96.8 269.6 96.8 270.1 97.3C270.5 97.8 270.5 99.7 270.1 100.2C269.6 100.7 267.9 100.7 267.4 100.2C267.0 99.7 267.0 97.8 267.4 97.3Z" fill="#f1eee6"/>
<path d="M226.5 105.9C227.2 105.4 229.8 105.2 230.5 105.5C231.2 105.8 231.1 107.2 230.5 107.6C229.9 108.0 227.5 108.4 226.8 108.1C226.1 107.8 225.9 106.3 226.5 105.9Z" fill="#f1eee6"/>
<path d="M233.9 66.3C234.1 64.8 235.5 64.7 236.0 66.1C236.6 67.4 237.3 72.8 237.1 74.2C236.9 75.7 235.5 76.2 235.0 74.9C234.5 73.6 233.8 67.8 233.9 66.3Z" fill="#f1eee6"/>
</g>
<g id="smalls">
<path d="M262.3 139.2C262.8 138.4 265.5 138.2 266.3 138.7C267.1 139.2 267.5 141.4 267.0 142.1C266.5 142.8 264.2 143.6 263.4 143.1C262.6 142.6 261.9 139.9 262.3 139.2Z" fill="#f0ece3"/>
<path d="M273.6 161.1C273.9 160.2 274.9 160.2 275.2 161.1C275.5 162.1 275.6 166.0 275.4 167.0C275.1 168.0 274.1 168.0 273.8 167.0C273.5 166.0 273.4 162.1 273.6 161.1Z" fill="#f0ece3"/>
<path d="M260.0 88.6C260.1 87.6 261.9 87.5 262.6 88.3C263.4 89.2 264.5 92.7 264.4 93.7C264.3 94.8 262.6 95.3 261.9 94.5C261.2 93.6 259.9 89.6 260.0 88.6Z" fill="#f0ece3"/>
<path d="M267.3 97.1C267.8 96.7 269.5 96.7 270.0 97.1C270.4 97.5 270.4 99.1 270.0 99.5C269.5 99.8 267.8 99.8 267.3 99.5C266.9 99.1 266.9 97.5 267.3 97.1Z" fill="#f0ece3"/>
<path d="M226.3 105.6C226.9 105.2 229.5 105.0 230.1 105.3C230.7 105.6 230.7 107.0 230.1 107.4C229.5 107.8 227.2 107.9 226.6 107.7C226.0 107.4 225.7 106.0 226.3 105.6Z" fill="#f0ece3"/>
<path d="M171.8 361.2C172.6 359.9 174.5 359.7 174.7 360.9C175.0 362.1 174.0 367.2 173.3 368.5C172.5 369.8 170.3 370.0 170.0 368.8C169.8 367.6 171.0 362.5 171.8 361.2Z" fill="#f0ece3"/>
<path d="M146.6 357.9C146.9 357.6 148.3 357.6 148.6 357.9C149.0 358.3 149.0 359.7 148.6 360.0C148.3 360.3 146.9 360.3 146.6 360.0C146.3 359.7 146.3 358.3 146.6 357.9Z" fill="#f0ece3"/>
<path d="M147.2 370.7C147.6 369.9 148.9 369.9 149.2 370.7C149.5 371.5 149.3 374.5 148.9 375.2C148.5 376.0 147.2 376.0 146.9 375.2C146.6 374.5 146.8 371.5 147.2 370.7Z" fill="#f0ece3"/>
<path d="M235.5 311.4C236.3 310.8 239.8 310.4 240.7 310.8C241.6 311.2 241.7 313.1 241.0 313.7C240.2 314.3 237.2 314.7 236.3 314.3C235.4 313.9 234.8 311.9 235.5 311.4Z" fill="#f0ece3"/>
<path d="M244.3 307.4C244.6 307.0 245.7 307.0 245.9 307.4C246.2 307.8 246.2 309.5 245.9 309.9C245.7 310.3 244.6 310.3 244.3 309.9C244.1 309.5 244.1 307.8 244.3 307.4Z" fill="#f0ece3"/>
<path d="M267.0 216.1C267.4 215.8 268.5 216.0 268.8 216.4C269.0 216.8 268.8 218.4 268.5 218.8C268.2 219.1 267.0 218.9 266.7 218.5C266.5 218.0 266.7 216.5 267.0 216.1Z" fill="#f0ece3"/>
<path d="M220.1 359.0C220.9 357.9 223.4 357.3 223.8 358.2C224.2 359.2 223.1 363.7 222.3 364.8C221.6 365.9 219.8 365.8 219.4 364.8C219.0 363.9 219.4 360.1 220.1 359.0Z" fill="#f0ece3"/>
<path d="M272.2 141.4C272.4 140.3 274.4 139.3 275.8 139.2C277.3 139.0 279.7 139.3 281.0 140.6C282.2 142.0 282.7 145.4 283.2 147.2C283.6 149.0 284.1 150.0 283.9 151.6C283.6 153.2 282.4 156.3 281.7 156.7C281.0 157.2 280.1 155.9 279.5 154.5C278.9 153.2 278.9 150.1 278.0 148.7C277.2 147.2 275.3 147.0 274.4 145.8C273.4 144.5 271.9 142.5 272.2 141.4Z" fill="#6da703"/>
<path d="M239.2 229.3C240.3 228.3 243.1 228.0 245.1 227.8C247.0 227.7 249.2 228.8 250.9 228.6C252.6 228.3 254.2 226.0 255.3 226.4C256.4 226.7 257.4 229.2 257.5 230.8C257.6 232.4 257.0 234.4 256.0 235.9C255.1 237.4 253.2 239.4 251.6 239.6C250.1 239.7 248.4 236.9 246.5 236.6C244.7 236.4 242.0 238.6 240.7 238.1C239.3 237.6 238.7 235.2 238.5 233.7C238.2 232.2 238.1 230.3 239.2 229.3Z" fill="#6da703"/>
<path d="M190.8 342.9C191.3 341.8 194.3 340.1 196.7 339.2C199.1 338.3 202.8 337.6 205.5 337.4C208.2 337.3 211.1 337.6 212.8 338.5C214.5 339.4 214.9 341.6 215.8 342.9C216.6 344.1 218.4 344.9 217.9 345.8C217.5 346.6 214.9 347.5 212.8 348.0C210.7 348.5 207.9 348.8 205.5 348.7C203.1 348.6 200.1 347.7 198.2 347.3C196.2 346.8 195.0 346.5 193.8 345.8C192.6 345.1 190.4 344.0 190.8 342.9Z" fill="#6da703"/>
<path d="M192.6 380.5C192.8 379.7 195.3 377.2 197.0 376.0C198.7 374.8 201.3 373.7 203.0 373.5C204.7 373.3 205.7 375.1 207.0 375.0C208.3 374.9 209.8 373.0 211.0 373.0C212.2 373.0 213.8 374.2 214.0 375.0C214.2 375.8 213.3 377.3 212.0 378.0C210.7 378.7 207.8 378.9 206.0 379.0C204.2 379.1 202.7 378.2 201.0 378.5C199.3 378.8 197.4 380.7 196.0 381.0C194.6 381.3 192.4 381.3 192.6 380.5Z" fill="#6da703"/>
<path d="M291.5 355.5C292.3 354.8 292.9 355.8 292.7 357.0C292.4 358.2 290.8 361.3 290.0 363.0C289.2 364.7 288.6 365.8 288.0 367.0C287.4 368.2 286.8 370.0 286.5 370.0C286.2 370.0 285.8 368.5 286.0 367.0C286.2 365.5 287.1 362.9 288.0 361.0C288.9 359.1 290.7 356.2 291.5 355.5Z" fill="#6da703"/>
<path d="M262.6 216.8C262.8 215.9 264.5 214.5 265.6 214.7C266.7 214.8 268.7 216.5 269.2 217.6C269.7 218.7 269.2 220.8 268.5 221.2C267.8 221.7 265.8 221.2 264.8 220.5C263.9 219.8 262.5 217.8 262.6 216.8Z" fill="#6da703"/>
<path d="M248.0 229.3C248.7 228.1 251.2 228.9 252.4 228.6C253.6 228.2 254.5 226.7 255.3 227.1C256.1 227.5 257.0 229.7 257.1 231.1C257.1 232.5 256.5 234.2 255.6 235.5C254.7 236.8 252.9 238.8 251.6 238.8C250.4 238.9 248.6 237.5 248.0 235.9C247.4 234.3 247.3 230.5 248.0 229.3Z" fill="#738b45"/>
<path d="M192.3 342.9C192.1 341.8 195.2 340.7 197.4 339.9C199.6 339.1 203.0 338.3 205.5 338.2C208.0 338.0 210.9 338.4 212.5 339.2C214.1 340.0 214.5 342.0 215.2 343.0C215.8 344.1 216.9 344.8 216.5 345.5C216.0 346.2 214.4 346.8 212.5 347.3C210.7 347.7 207.8 348.1 205.5 348.0C203.2 347.9 200.7 347.4 198.5 346.5C196.3 345.7 192.5 344.0 192.3 342.9Z" fill="#738b45"/>
<path d="M198.0 377.0C198.7 376.2 201.6 374.7 203.0 374.5C204.4 374.3 206.3 375.4 206.5 376.0C206.7 376.6 205.2 377.5 204.0 378.0C202.8 378.5 200.0 379.2 199.0 379.0C198.0 378.8 197.3 377.8 198.0 377.0Z" fill="#738b45"/>
<path d="M208.0 375.5C208.0 374.9 210.2 374.0 211.0 374.0C211.8 374.0 213.0 374.9 213.0 375.5C213.0 376.1 211.8 377.5 211.0 377.5C210.2 377.5 208.0 376.1 208.0 375.5Z" fill="#738b45"/>
<path d="M272.9 142.1C273.0 141.2 274.7 140.3 275.8 140.2C276.9 140.1 279.1 140.2 279.5 141.4C279.9 142.5 278.8 146.5 278.0 147.2C277.3 147.9 275.9 146.6 275.1 145.8C274.2 144.9 272.8 143.0 272.9 142.1Z" fill="#abff00"/>
<path d="M239.5 230.0C240.5 229.2 243.6 228.3 245.1 228.6C246.5 228.8 247.6 230.3 248.0 231.5C248.4 232.7 248.4 234.9 247.3 235.9C246.1 236.9 242.3 237.7 241.0 237.4C239.6 237.0 239.1 234.9 238.9 233.7C238.7 232.5 238.5 230.9 239.5 230.0Z" fill="#abff00"/>
<path d="M265.3 217.3C265.6 216.9 267.0 216.9 267.3 217.3C267.7 217.6 267.7 219.0 267.3 219.3C267.0 219.7 265.6 219.7 265.3 219.3C264.9 219.0 264.9 217.6 265.3 217.3Z" fill="#f4f4ee"/>
</g>
<g id="forest" fill="#738b45" stroke="#738b45" stroke-linejoin="round">
<path d="M165.2 74.0C166.6 72.6 168.3 72.1 170.3 72.5C172.4 72.8 173.3 73.7 174.0 75.4C174.7 77.1 172.7 77.8 173.3 79.8C173.8 81.9 175.3 81.8 176.2 84.2C177.0 86.6 177.6 88.0 176.9 90.1C176.2 92.1 175.3 92.5 173.3 93.0C171.2 93.5 170.0 93.3 168.1 92.3C166.3 91.2 165.7 90.8 165.2 88.6C164.7 86.4 166.1 85.1 165.9 82.7C165.8 80.4 164.6 80.4 164.5 78.4C164.3 76.3 163.8 75.3 165.2 74.0Z"/>
<path d="M124.9 131.1C124.9 128.9 124.8 128.4 126.4 126.7C127.9 125.0 128.6 124.6 131.5 123.8C134.4 123.0 136.3 123.0 138.8 123.3C141.4 123.7 141.3 123.8 142.5 125.2C143.7 126.7 143.3 127.2 144.0 129.6C144.6 132.0 143.9 133.4 145.4 135.5C147.0 137.5 149.0 136.0 150.5 138.4C152.1 140.8 152.2 142.7 152.0 145.8C151.8 148.8 151.7 149.6 149.8 151.6C147.9 153.7 146.3 153.2 144.0 154.5C141.6 155.9 141.8 156.3 139.6 157.5C137.3 158.7 136.8 160.0 134.4 159.7C132.0 159.3 130.7 157.9 129.3 156.0C127.9 154.1 128.4 153.7 128.6 151.6C128.7 149.6 130.0 149.6 130.0 147.2C130.0 144.8 129.4 143.9 128.6 141.4C127.7 138.8 127.2 138.6 126.4 136.2C125.5 133.8 124.9 133.3 124.9 131.1Z"/>
<path d="M150.5 125.2C151.4 123.5 151.6 123.4 154.2 122.3C156.8 121.2 158.1 121.1 161.5 120.5C165.0 120.0 166.0 119.5 168.9 120.1C171.8 120.7 172.5 121.2 174.0 123.0C175.5 124.9 176.0 126.3 175.5 128.2C174.9 130.0 173.3 130.1 171.8 131.1C170.3 132.1 170.2 131.5 168.9 132.6C167.5 133.6 167.6 134.3 165.9 135.5C164.2 136.7 163.9 137.4 161.5 137.7C159.1 138.0 157.9 137.8 155.7 137.0C153.5 136.1 153.2 135.7 152.0 134.0C150.8 132.3 150.9 131.7 150.5 129.6C150.2 127.6 149.7 126.9 150.5 125.2Z"/>
<path d="M196.0 121.6C197.7 121.2 198.1 121.6 199.6 123.8C201.2 126.0 200.5 128.4 202.6 131.1C204.6 133.8 205.3 134.0 208.4 135.5C211.5 137.0 213.2 136.0 215.8 137.7C218.3 139.4 218.9 139.6 219.4 142.8C219.9 146.1 217.6 147.9 217.9 151.6C218.3 155.4 219.9 155.2 220.9 158.9C221.9 162.7 222.3 163.6 222.3 167.7C222.3 171.8 222.1 173.1 220.9 176.5C219.7 179.9 219.8 180.3 217.2 182.4C214.7 184.4 213.3 184.5 209.9 185.3C206.5 186.2 205.5 186.4 202.6 186.0C199.7 185.7 199.1 185.7 197.4 183.8C195.7 182.0 196.1 181.1 195.2 178.0C194.4 174.9 194.8 173.7 193.8 170.7C192.7 167.6 191.7 167.9 190.8 164.8C190.0 161.7 189.8 160.9 190.1 157.5C190.5 154.1 192.0 153.9 192.3 150.1C192.6 146.4 191.9 145.5 191.6 141.4C191.2 137.3 190.7 136.3 190.8 132.6C191.0 128.8 191.1 127.8 192.3 125.2C193.5 122.7 194.3 121.9 196.0 121.6Z"/>
<path d="M246.5 112.8C247.9 111.7 247.4 114.4 248.7 114.7C250.1 114.9 251.3 113.3 252.4 113.8C253.4 114.3 252.1 115.7 253.3 116.7C254.4 117.8 257.0 117.0 257.4 118.2C257.8 119.4 255.8 119.9 255.0 122.0C254.2 124.2 254.5 125.0 253.8 127.4C253.2 129.9 253.7 131.7 252.4 132.6C251.0 133.4 249.9 132.5 248.0 131.1C246.1 129.7 246.0 127.0 244.3 126.7C242.6 126.4 242.2 128.3 240.7 129.6C239.1 131.0 239.4 132.2 237.7 132.6C236.0 132.9 234.5 132.1 233.3 131.1C232.1 130.1 231.6 129.9 232.6 128.2C233.6 126.5 235.3 125.8 237.7 123.8C240.1 121.7 240.8 121.9 242.9 119.4C244.9 116.8 245.2 113.9 246.5 112.8Z"/>
<path d="M148.4 157.5C149.7 156.8 151.6 156.9 152.7 158.9C153.9 161.0 154.5 164.4 153.5 166.3C152.5 168.1 149.9 168.0 148.4 167.0C146.8 166.0 146.9 164.1 146.9 161.9C146.9 159.6 147.0 158.2 148.4 157.5Z"/>
<path d="M131.5 204.4C132.9 202.5 134.2 204.2 138.1 202.2C142.0 200.1 143.6 196.8 148.4 195.6C153.1 194.4 153.8 196.4 158.6 197.1C163.4 197.8 164.1 196.5 168.9 198.5C173.7 200.6 174.7 203.0 179.1 205.9C183.6 208.8 184.2 208.6 187.9 211.0C191.7 213.4 193.4 213.2 195.2 216.1C197.1 219.0 196.7 220.0 196.0 223.4C195.3 226.9 194.5 228.2 192.3 230.8C190.1 233.3 189.9 233.4 186.4 234.4C183.0 235.5 181.8 234.7 177.7 235.2C173.6 235.7 171.4 234.6 168.9 236.6C166.3 238.7 166.8 240.2 166.7 244.0C166.5 247.7 167.3 249.3 168.1 252.7C169.0 256.2 169.5 255.9 170.3 258.6C171.2 261.3 171.1 261.7 171.8 264.5C172.5 267.2 171.6 269.3 173.3 270.3C175.0 271.4 175.7 269.9 179.1 268.9C182.5 267.8 185.2 264.9 187.9 265.9C190.6 267.0 190.8 269.5 190.8 273.3C190.8 277.0 190.0 279.3 187.9 282.1C185.9 284.8 184.8 284.6 182.1 285.0C179.3 285.3 178.6 283.2 176.2 283.5C173.8 283.9 173.2 284.1 171.8 286.4C170.4 288.8 170.3 290.0 170.3 293.8C170.3 297.5 172.1 298.5 171.8 302.6C171.5 306.7 169.9 307.3 168.9 311.4C167.8 315.5 168.4 316.0 167.4 320.1C166.4 324.2 166.5 325.5 164.5 328.9C162.4 332.4 161.3 332.4 158.6 334.8C155.9 337.2 154.5 336.5 152.7 339.2C151.0 341.9 153.3 343.8 151.3 346.5C149.2 349.3 146.7 349.9 144.0 350.9C141.2 351.9 141.3 351.6 139.6 350.9C137.9 350.2 136.8 349.5 136.6 348.0C136.5 346.4 139.0 345.9 138.8 344.3C138.7 342.8 135.4 342.6 135.9 341.4C136.4 340.2 138.5 340.9 141.0 339.2C143.5 337.5 145.0 337.1 146.6 334.1C148.2 331.0 147.0 329.6 148.1 326.0C149.1 322.4 150.0 322.1 151.0 318.7C151.9 315.3 152.2 315.1 152.2 311.4C152.2 307.6 151.8 306.3 151.0 302.6C150.2 298.8 150.2 298.2 148.6 295.2C147.1 292.2 146.9 292.3 144.2 289.7C141.6 287.0 140.2 284.6 137.4 283.8C134.6 283.1 134.5 286.5 132.2 286.4C130.0 286.4 129.0 285.9 127.8 283.5C126.6 281.1 126.4 279.3 127.1 276.2C127.8 273.1 128.5 271.0 130.8 270.3C133.0 269.6 133.9 271.9 136.6 273.3C139.4 274.6 139.8 276.9 142.5 276.2C145.2 275.5 146.0 273.4 148.4 270.3C150.7 267.3 150.7 266.1 152.7 263.0C154.8 259.9 156.5 259.9 157.1 257.1C157.8 254.4 157.4 253.0 155.7 251.3C154.0 249.6 152.6 249.8 149.8 249.8C147.1 249.8 146.3 252.0 144.0 251.3C141.6 250.6 142.3 248.6 139.6 246.9C136.8 245.2 135.1 245.3 132.2 244.0C129.3 242.6 129.8 241.2 127.1 241.0C124.4 240.9 123.2 244.1 120.5 243.2C117.8 242.4 116.8 239.9 115.4 237.4C114.0 234.8 114.0 234.6 114.7 232.2C115.3 229.8 115.9 228.8 118.3 227.1C120.7 225.4 121.8 225.8 124.9 224.9C128.0 224.1 129.5 224.8 131.5 223.4C133.5 222.1 133.2 222.1 133.4 219.0C133.6 216.0 132.7 213.7 132.2 210.3C131.8 206.8 130.1 206.3 131.5 204.4Z"/>
<path d="M208.4 224.9C211.2 224.2 212.0 224.8 211.4 227.8C210.7 230.9 207.9 233.3 205.5 238.1C203.1 242.9 203.2 245.1 201.1 248.4C199.0 251.6 198.8 252.0 196.7 252.0C194.7 252.0 193.0 251.3 192.3 248.4C191.6 245.4 192.1 243.7 193.8 239.6C195.5 235.5 196.2 234.2 199.6 230.8C203.1 227.4 205.7 225.6 208.4 224.9Z"/>
<path d="M220.1 255.7C221.9 254.7 224.1 253.9 226.0 254.9C227.9 256.0 228.4 257.9 228.2 260.1C228.0 262.3 227.2 263.6 225.3 264.5C223.4 265.3 221.7 264.9 220.1 263.7C218.6 262.5 218.7 261.2 218.7 259.3C218.7 257.5 218.4 256.7 220.1 255.7Z"/>
<path d="M206.2 260.8C207.4 259.8 209.3 259.2 210.6 260.1C212.0 260.9 212.6 262.9 212.1 264.5C211.6 266.0 210.0 266.7 208.4 266.7C206.9 266.7 206.0 265.8 205.5 264.5C205.0 263.1 205.0 261.8 206.2 260.8Z"/>
<path d="M211.4 304.0C212.6 301.3 214.1 300.8 217.2 301.1C220.3 301.4 222.1 303.1 224.5 305.5C226.9 307.9 227.1 308.6 227.5 311.4C227.8 314.1 227.0 314.1 226.0 317.2C225.0 320.3 225.1 322.1 223.1 324.5C221.0 326.9 219.1 328.5 217.2 327.5C215.3 326.4 216.2 323.6 215.0 320.1C213.8 316.7 212.9 316.6 212.1 312.8C211.2 309.1 210.2 306.8 211.4 304.0Z"/>
<path d="M252.4 252.7C254.3 250.0 257.4 247.8 259.0 249.8C260.5 251.9 259.8 256.4 259.0 261.5C258.1 266.7 257.2 269.7 255.3 271.8C253.4 273.8 251.9 272.7 250.9 270.3C249.9 267.9 250.6 265.6 250.9 261.5C251.3 257.4 250.5 255.5 252.4 252.7Z"/>
<path d="M118.3 268.9C119.0 267.9 120.3 266.8 122.0 267.1C123.7 267.4 125.3 268.8 125.6 270.0C126.0 271.3 125.0 272.3 123.4 272.5C121.9 272.8 120.2 271.9 119.0 271.1C117.9 270.2 117.6 269.8 118.3 268.9Z"/>
</g>
<g id="mang" fill="#abff00">
<path d="M137.4 41.0C139.6 40.0 144.1 40.3 148.4 42.0C152.6 43.7 155.0 46.3 155.7 48.3C156.4 50.3 154.0 50.7 151.3 50.5C148.5 50.3 146.9 48.6 144.0 47.6C141.1 46.6 140.4 47.7 138.8 46.1C137.3 44.6 135.1 41.9 137.4 41.0Z"/>
<path d="M178.4 64.4C179.1 65.8 179.4 69.1 180.6 72.5C181.8 75.9 182.4 77.0 183.5 79.1C184.6 81.1 185.0 79.1 185.3 81.3C185.5 83.5 185.4 87.1 184.7 88.6C183.9 90.1 182.9 89.9 182.1 87.9C181.2 85.8 181.6 83.1 180.9 79.8C180.1 76.6 179.6 77.0 178.8 74.0C178.0 70.9 177.5 68.9 177.4 66.6C177.3 64.4 177.6 63.1 178.4 64.4Z"/>
<path d="M185.7 102.5C186.9 100.5 188.8 102.1 190.8 103.3C192.9 104.5 193.5 105.3 194.5 107.7C195.5 110.0 196.1 111.1 195.2 113.5C194.4 115.9 192.7 116.9 190.8 117.9C189.0 118.9 188.4 119.3 187.2 117.9C186.0 116.5 186.1 115.6 185.7 112.1C185.4 108.5 184.5 104.6 185.7 102.5Z"/>
<path d="M204.8 111.3C204.8 109.6 206.2 110.9 208.4 112.8C210.6 114.7 211.6 116.8 214.3 119.4C217.0 121.9 216.7 122.1 220.1 123.8C223.6 125.5 226.4 124.7 228.9 126.7C231.5 128.8 231.8 130.5 231.1 132.6C230.5 134.6 228.6 136.0 226.0 135.5C223.4 135.0 222.9 132.6 220.1 130.4C217.4 128.1 217.0 128.4 214.3 126.0C211.6 123.6 210.6 123.5 208.4 120.1C206.2 116.7 204.8 113.0 204.8 111.3Z"/>
<path d="M252.4 135.5C254.1 137.0 254.5 138.6 253.8 141.4C253.2 144.1 251.7 144.5 249.5 147.2C247.2 150.0 246.7 150.3 244.3 153.1C241.9 155.8 241.2 156.7 239.2 158.9C237.1 161.2 237.2 162.4 235.5 162.6C233.8 162.8 232.9 162.2 231.9 159.7C230.8 157.1 230.3 155.4 231.1 151.6C232.0 147.9 233.3 146.7 235.5 143.6C237.8 140.4 238.1 140.2 240.7 138.1C243.2 136.1 243.8 135.4 246.5 134.8C249.3 134.1 250.7 134.0 252.4 135.5Z"/>
<path d="M232.6 169.2C233.4 168.2 234.1 166.9 234.5 170.7C234.9 174.4 235.1 182.2 234.5 185.3C233.9 188.4 232.7 186.2 231.9 183.8C231.1 181.5 231.0 178.5 231.1 175.1C231.3 171.6 231.8 170.2 232.6 169.2Z"/>
<path d="M226.0 191.2C228.9 190.7 232.3 190.5 232.6 191.9C232.9 193.3 229.5 194.5 227.5 197.0C225.4 199.6 224.7 199.5 223.8 202.9C223.0 206.3 226.5 209.6 223.8 211.7C221.1 213.7 214.3 214.4 212.1 211.7C209.9 208.9 212.4 204.1 214.3 200.0C216.2 195.9 217.4 196.2 220.1 194.1C222.9 192.1 223.1 191.7 226.0 191.2Z"/>
<path d="M231.1 236.6C232.2 235.3 233.3 236.0 234.8 238.1C236.3 240.1 236.7 242.3 237.7 245.4C238.8 248.5 238.0 248.5 239.2 251.3C240.4 254.0 242.5 255.4 242.9 257.1C243.2 258.9 242.2 259.3 240.7 258.6C239.1 257.9 238.1 256.3 236.3 254.2C234.4 252.2 234.0 252.2 232.6 249.8C231.2 247.4 230.7 247.0 230.4 244.0C230.1 240.9 230.1 238.0 231.1 236.6Z"/>
<path d="M249.2 256.4C249.8 254.0 251.6 251.2 252.4 252.7C253.2 254.3 253.4 260.6 252.7 263.0C252.0 265.4 250.3 264.5 249.5 263.0C248.6 261.5 248.5 258.8 249.2 256.4Z"/>
<path d="M239.2 264.5C240.4 260.4 243.0 261.0 244.3 263.0C245.7 265.1 245.4 269.3 245.1 273.3C244.7 277.2 244.2 278.1 242.9 279.9C241.5 281.6 240.0 284.2 239.2 280.6C238.3 277.0 238.0 268.6 239.2 264.5Z"/>
<path d="M215.8 286.4C218.3 285.4 222.5 285.6 224.5 289.4C226.6 293.1 223.9 298.7 224.5 302.6C225.2 306.4 229.2 306.1 227.5 305.8C225.8 305.4 220.5 303.9 217.2 301.1C214.0 298.3 213.9 297.2 213.6 293.8C213.2 290.4 213.2 287.5 215.8 286.4Z"/>
<path d="M199.6 295.2C199.6 294.0 200.3 293.1 202.6 294.5C204.8 295.9 208.0 299.0 209.2 301.1C210.4 303.2 209.2 303.6 207.7 303.3C206.2 303.0 204.4 301.5 202.6 299.6C200.7 297.8 199.6 296.4 199.6 295.2Z"/>
</g>
<g id="bz">
<path d="M149.8 56.4C156.3 46.1 168.7 49.0 176.2 59.3C183.7 69.6 177.9 89.4 182.1 100.3C186.2 111.3 188.3 100.7 193.8 106.2C199.2 111.7 197.3 116.9 205.5 123.8C213.7 130.6 221.4 130.0 228.9 135.5C236.5 141.0 237.0 137.6 237.7 147.2C238.4 156.8 234.6 165.2 231.9 176.5C229.1 187.8 232.8 189.4 226.0 195.6C219.2 201.7 214.2 201.2 202.6 202.9C190.9 204.6 186.4 205.6 176.2 202.9C165.9 200.2 162.0 200.7 158.6 191.2C155.2 181.6 163.6 169.4 161.5 161.9C159.5 154.3 151.9 167.8 149.8 158.9C147.8 150.0 153.1 136.8 152.7 123.8C152.4 110.8 149.0 119.0 148.4 103.3C147.7 87.5 143.3 66.6 149.8 56.4Z" fill="#000" fill-opacity="1.00"/>
<path d="M148.4 205.9C158.6 203.8 177.3 204.7 187.9 208.8C198.5 212.9 195.1 217.6 193.8 223.4C192.4 229.3 190.9 231.6 182.1 233.7C173.2 235.8 164.6 236.0 155.7 232.2C146.8 228.5 145.7 223.7 144.0 217.6C142.2 211.4 138.1 207.9 148.4 205.9Z" fill="#000" fill-opacity="0.35"/>
<path d="M158.6 282.1C162.7 278.6 172.8 281.1 176.2 287.9C179.6 294.7 176.0 304.5 173.3 311.4C170.5 318.2 167.9 319.3 164.5 317.2C161.1 315.2 160.0 310.8 158.6 302.6C157.2 294.4 154.5 285.5 158.6 282.1Z" fill="#000" fill-opacity="0.45"/>
</g>
<g id="bzf">
<path d="M136.6 202.9C151.7 198.1 179.8 202.6 193.8 208.8C207.8 214.9 202.2 222.5 196.7 229.3C191.2 236.1 182.6 234.7 170.3 238.1C158.0 241.5 153.5 246.0 144.0 244.0C134.4 241.9 131.0 238.9 129.3 229.3C127.6 219.7 121.6 207.7 136.6 202.9Z" fill="#000" fill-opacity="1.00"/>
<path d="M158.6 248.4C162.0 243.2 166.9 240.5 170.3 248.4C173.7 256.2 173.6 266.0 173.3 282.1C172.9 298.1 172.3 307.0 168.9 317.2C165.4 327.5 162.7 329.4 158.6 326.0C154.5 322.6 152.0 315.6 151.3 302.6C150.6 289.6 154.0 283.0 155.7 270.3C157.4 257.7 155.2 253.5 158.6 248.4Z" fill="#000" fill-opacity="0.60"/>
</g>
<g id="uz">
<path d="M211.4 197.1C213.7 194.3 220.8 190.2 224.5 197.1C228.3 203.9 224.7 215.4 227.5 226.4C230.2 237.3 232.2 236.1 236.3 244.0C240.4 251.8 244.4 256.0 245.1 260.1C245.7 264.2 242.3 263.6 239.2 261.5C236.1 259.5 235.3 257.1 231.9 251.3C228.4 245.5 227.6 243.5 224.5 236.6C221.5 229.8 221.1 228.5 218.7 222.0C216.3 215.5 216.0 214.6 214.3 208.8C212.6 203.0 209.0 199.8 211.4 197.1Z" fill="#000" fill-opacity="0.85"/>
<path d="M201.1 257.1C210.7 251.7 233.0 253.5 243.6 258.6C254.2 263.7 249.3 271.6 246.5 279.1C243.8 286.6 239.4 287.4 231.9 290.8C224.3 294.3 221.1 295.8 214.3 293.8C207.4 291.7 205.6 290.6 202.6 282.1C199.5 273.5 191.5 262.6 201.1 257.1Z" fill="#000" fill-opacity="0.90"/>
<path d="M182.1 315.8C182.4 312.7 184.9 311.8 189.4 308.4C193.8 305.0 196.7 302.8 201.1 301.1C205.5 299.4 206.7 299.9 208.4 301.1C210.1 302.3 211.2 303.7 208.4 306.2C205.7 308.8 201.5 308.5 196.7 312.1C191.9 315.7 191.3 320.8 187.9 321.6C184.5 322.5 181.7 318.8 182.1 315.8Z" fill="#000" fill-opacity="1.00"/>
<path d="M136.6 270.3C136.6 266.2 139.8 262.4 142.5 258.6C145.2 254.8 146.0 254.6 148.4 254.2C150.7 253.9 152.7 253.7 152.7 257.1C152.7 260.6 150.7 264.4 148.4 268.9C146.0 273.3 145.2 275.8 142.5 276.2C139.8 276.5 136.6 274.4 136.6 270.3Z" fill="#000" fill-opacity="1.00"/>
<path d="M142.5 167.7C145.9 162.6 150.7 163.1 158.6 161.9C166.5 160.7 171.7 159.2 176.2 162.6C180.6 166.0 179.0 172.2 177.7 176.5C176.3 180.8 178.2 179.2 170.3 180.9C162.5 182.6 150.5 186.9 144.0 183.8C137.5 180.8 139.1 172.9 142.5 167.7Z" fill="#000" fill-opacity="0.70"/>
<path d="M134.4 38.1C137.0 36.9 144.7 37.6 147.6 38.5C150.5 39.4 149.5 40.9 146.9 42.0C144.3 43.2 139.5 44.4 136.6 43.5C133.7 42.6 131.9 39.2 134.4 38.1Z" fill="#000" fill-opacity="1.00"/>
<path d="M140.3 290.8C141.0 283.0 143.5 285.6 145.4 293.8C147.3 302.0 149.0 318.1 148.4 326.0C147.7 333.9 144.4 335.7 142.5 327.5C140.6 319.3 139.6 298.7 140.3 290.8Z" fill="#000" fill-opacity="0.55"/>
<path d="M152.7 343.6C156.5 340.2 167.0 338.6 171.8 340.7C176.6 342.7 177.0 349.0 173.3 352.4C169.5 355.8 160.5 357.4 155.7 355.3C150.9 353.3 149.0 347.0 152.7 343.6Z" fill="#000" fill-opacity="0.60"/>
<path d="M227.5 314.3C228.2 312.2 230.7 312.4 231.9 314.3C233.1 316.2 233.3 320.3 232.6 322.3C231.9 324.4 230.1 325.0 228.9 323.1C227.7 321.2 226.8 316.3 227.5 314.3Z" fill="#000" fill-opacity="1.00"/>
<path d="M187.9 191.2C192.7 186.0 204.5 184.9 211.4 189.7C218.2 194.5 222.0 206.6 217.2 211.7C212.4 216.8 197.7 216.5 190.8 211.7C184.0 206.9 183.1 196.3 187.9 191.2Z" fill="#000" fill-opacity="0.55"/>
<path d="M135.2 40.3C135.8 41.7 137.2 44.1 138.4 47.6C139.6 51.1 140.1 53.4 141.3 57.8C142.5 62.2 143.2 64.9 144.2 69.6C145.3 74.2 145.7 76.9 146.4 81.3C147.2 85.7 147.5 87.7 147.9 91.5C148.4 95.3 148.6 96.2 148.6 100.3C148.7 104.4 148.7 107.9 148.4 112.1C148.0 116.2 147.2 119.1 146.9 120.8" fill="none" stroke="#000" stroke-width="2.5" stroke-opacity="0.8"/>
<path d="M148.4 102.7 158.6 101.8 168.9 100.9" fill="none" stroke="#000" stroke-width="2" stroke-opacity="0.9"/>
</g>
<g id="core" fill="#ff1200"><path transform="translate(222.5 273.5) scale(0.82) translate(-222.5 -273.5)" d="M208.7 270.0C209.2 268.3 211.9 270.2 213.6 268.9C215.2 267.5 214.6 264.4 215.8 264.2C216.9 263.9 216.8 267.4 218.7 267.7C220.6 268.0 222.3 265.4 223.8 265.6C225.3 265.9 223.4 268.2 225.3 268.9C227.2 269.5 228.8 268.0 231.9 268.6C234.9 269.2 236.8 269.9 238.5 271.5C240.1 273.1 240.3 274.4 238.9 275.5C237.5 276.6 234.9 275.5 232.6 276.2C230.3 276.9 230.4 277.0 228.9 278.4C227.5 279.8 227.2 279.8 226.3 282.1C225.4 284.3 226.2 287.4 225.3 288.2C224.4 289.1 223.6 287.2 222.3 285.7C221.1 284.3 221.1 282.7 219.9 282.1C218.7 281.4 218.2 283.6 217.2 282.8C216.3 281.9 217.1 279.9 215.8 278.4C214.4 276.8 213.0 278.1 211.4 276.2C209.7 274.2 208.2 271.7 208.7 270.0Z"/><path d="M134.9 38.8C137.0 37.7 144.8 38.6 147.2 39.1C149.6 39.6 147.8 40.6 146.9 41.1C145.9 41.7 144.2 41.3 142.5 41.7C140.8 42.2 139.6 42.9 138.4 43.5C137.2 44.1 137.0 45.6 136.3 44.7C135.6 43.7 132.7 39.9 134.9 38.8Z"/><path d="M139.3 268.9C139.4 266.5 140.7 264.0 141.8 261.5C142.8 259.0 143.6 257.6 144.7 256.4C145.8 255.2 146.9 254.7 147.2 255.7C147.5 256.7 146.9 259.0 146.2 261.5C145.5 264.0 144.7 265.8 143.7 268.1C142.6 270.5 141.9 273.1 141.0 273.3C140.1 273.4 139.1 271.2 139.3 268.9Z"/><path d="M186.4 312.8C187.1 311.4 188.8 309.9 190.8 308.7C192.9 307.5 195.8 306.6 196.7 306.7C197.6 306.8 196.6 308.0 195.2 309.2C193.9 310.3 191.6 311.2 190.1 312.5C188.6 313.8 188.4 315.7 187.6 315.8C186.9 315.8 185.8 314.2 186.4 312.8Z"/></g>
<g id="thal" fill="#ff1200"><path transform="translate(166.7 170.6) scale(0.7) translate(-166.7 -170.6)" d="M161.5 169.9C161.9 168.8 163.3 168.4 164.5 167.0C165.7 165.6 165.6 164.1 166.7 164.1C167.7 164.1 167.6 166.1 168.9 167.0C170.1 167.9 171.6 166.8 172.1 167.7C172.6 168.7 170.8 169.4 171.1 171.0C171.3 172.5 173.8 173.5 173.3 174.3C172.7 175.1 170.4 173.8 168.9 174.3C167.3 174.8 167.7 176.7 166.7 176.5C165.6 176.3 165.8 174.1 164.5 173.6C163.1 173.1 161.2 174.7 160.8 174.3C160.4 173.9 162.5 172.9 162.7 171.8C162.9 170.8 161.1 171.1 161.5 169.9Z"/><path d="M144.0 174.3C144.3 173.5 146.8 172.7 148.4 172.9C149.9 173.0 150.9 174.2 150.5 175.1C150.2 175.9 148.4 176.7 146.9 176.5C145.3 176.3 143.6 175.2 144.0 174.3Z"/></g>
<g id="streaks" fill="none" stroke="#ff1200" stroke-width="1.3" stroke-dasharray="2.5 1 1 1.5"><path d="M217.2 279.1 208.4 289.4 199.6 299.6 190.8 308.4"/><path d="M215.8 273.3 202.6 276.2 193.8 282.1"/><path d="M215.8 191.2C216.5 193.6 218.1 198.2 219.4 202.9C220.7 207.6 221.3 210.0 222.3 214.7C223.4 219.3 223.2 222.3 224.5 226.4C225.9 230.5 227.3 231.9 228.9 235.2C230.5 238.4 231.3 239.6 232.6 242.5C233.9 245.4 234.2 247.0 235.5 249.8C236.8 252.6 238.5 255.1 239.2 256.4" stroke-width="1.6" stroke-dasharray="2 1 1 1 3 1.5"/></g>
<g id="nroad" fill="none" stroke="#ff1200"><path d="M148.1 102.8 158.6 101.8 168.9 100.9" stroke-width="0.9"/><path d="M136.2 41.0C136.8 42.5 138.1 44.9 139.3 48.3C140.4 51.7 140.9 53.6 142.1 57.8C143.2 62.1 143.8 64.9 144.8 69.6C145.8 74.2 146.3 76.9 147.0 81.3C147.7 85.7 148.0 87.7 148.4 91.5C148.7 95.3 148.9 96.2 148.9 100.3C149.0 104.4 149.0 107.9 148.6 112.1C148.3 116.2 147.5 119.1 147.2 120.8" stroke-width="0.8" stroke-dasharray="4 1.5 2 2"/></g>
<g id="road" fill="none" stroke="#ff1200" stroke-width="1.1" stroke-dasharray="3 1.5 1 1"><path d="M173.3 174.3 187.9 185.3 201.1 195.6 212.8 205.8"/></g>
<g id="wat" fill="#c828f5">
<path d="M171.8 266.7C173.2 265.6 177.8 266.4 178.4 267.4C179.0 268.4 176.1 270.8 174.7 271.8C173.3 272.8 172.1 273.6 171.5 272.5C170.9 271.5 170.4 267.7 171.8 266.7Z"/>
<path d="M175.0 236.9C175.5 236.5 177.1 236.5 177.7 236.9C178.2 237.4 178.2 238.8 177.7 239.3C177.1 239.7 175.5 239.7 175.0 239.3C174.5 238.8 174.5 237.4 175.0 236.9Z"/>
<path d="M117.6 241.8C118.3 241.0 121.1 240.6 122.0 241.0C122.9 241.5 122.7 243.2 122.0 244.0C121.2 244.7 119.2 245.1 118.3 244.7C117.4 244.2 116.8 242.5 117.6 241.8Z"/>
<path d="M113.9 234.0C114.3 233.6 115.7 233.8 116.1 234.4C116.5 235.1 116.2 236.9 115.8 237.4C115.4 237.8 114.4 237.3 114.1 236.6C113.7 236.0 113.5 234.4 113.9 234.0Z"/>
<path d="M149.5 359.0C150.0 358.0 151.3 358.0 151.6 359.0C151.9 359.9 151.5 362.8 151.0 363.8C150.5 364.8 149.5 364.8 149.2 363.8C148.9 362.8 149.1 359.9 149.5 359.0Z"/>
<path d="M215.0 208.8C215.6 208.3 217.4 208.4 217.9 209.1C218.5 209.7 218.2 211.5 217.7 212.0C217.1 212.5 215.5 212.4 215.0 211.7C214.5 211.1 214.4 209.3 215.0 208.8Z"/>
<path d="M185.7 93.7C186.8 91.9 188.0 92.2 188.8 92.7C189.6 93.2 190.1 94.4 189.7 96.2C189.3 98.1 188.0 100.9 186.7 102.1C185.5 103.3 183.7 103.8 183.5 102.1C183.3 100.4 184.7 95.6 185.7 93.7Z"/>
<path d="M202.6 109.1C203.1 108.6 205.0 109.1 205.5 109.9C206.0 110.6 205.7 112.3 205.2 112.8C204.7 113.3 203.4 113.1 202.9 112.3C202.3 111.6 202.0 109.6 202.6 109.1Z"/>
<path d="M141.8 179.5C142.2 178.7 143.5 178.7 144.0 179.5C144.4 180.2 144.4 182.4 144.0 183.1C143.5 183.8 142.2 183.8 141.8 183.1C141.3 182.4 141.3 180.2 141.8 179.5Z"/>
<path d="M204.8 218.8C205.3 218.2 207.0 218.0 207.7 218.3C208.4 218.7 208.6 220.0 208.1 220.5C207.6 221.0 205.9 221.3 205.2 221.0C204.5 220.6 204.3 219.3 204.8 218.8Z"/>
<path d="M184.2 245.4C184.8 245.0 186.6 245.0 187.2 245.4C187.8 245.9 187.8 247.2 187.2 247.6C186.6 248.1 184.8 248.1 184.2 247.6C183.7 247.2 183.7 245.9 184.2 245.4Z"/>
<path d="M157.9 167.0C158.4 166.6 159.9 166.6 160.4 167.0C160.9 167.4 160.9 168.8 160.4 169.2C159.9 169.6 158.4 169.6 157.9 169.2C157.4 168.8 157.4 167.4 157.9 167.0Z"/>
<path d="M134.6 40.5C135.2 42.1 136.5 44.9 137.7 48.3C138.8 51.8 139.3 53.6 140.4 57.8C141.6 62.1 142.3 64.9 143.4 69.6C144.4 74.2 145.1 78.9 145.6 81.3" fill="none" stroke="#c828f5" stroke-width="1.2"/>
</g>
<clipPath id="pc0"><rect x="38" y="9" width="1045" height="400"/></clipPath>
<clipPath id="pc1"><rect x="38" y="9" width="1045" height="400"/></clipPath>
<clipPath id="pc2"><rect x="38" y="9" width="1045" height="400"/></clipPath>
<clipPath id="pc3"><rect x="38" y="9" width="1045" height="400"/></clipPath>
<clipPath id="pc4"><rect x="38" y="398" width="1045" height="400"/></clipPath>
<clipPath id="pc5"><rect x="38" y="398" width="1045" height="400"/></clipPath>
<clipPath id="pc6"><rect x="38" y="398" width="1045" height="400"/></clipPath>
<clipPath id="pc7"><rect x="38" y="398" width="1045" height="400"/></clipPath>
</defs>
<rect x="38" y="9" width="1045" height="759.5" fill="#b9e4f9"/>
<g clip-path="url(#pc0)"><g transform="translate(0 0) scale(1 1)">
<use href="#main"/><use href="#smalls"/>
<text x="130" y="102.5" font-family="'Liberation Sans', sans-serif" font-size="2.6" font-weight="bold" fill="#bf9c74" fill-opacity="0.85" text-anchor="middle">Sirinat National<tspan x="130" dy="3.1">Park</tspan></text>
<use href="#outl" fill="#6da703"/>
<g clip-path="url(#isl)">
<use href="#outl" filter="url(#fsp0)"/>
<use href="#bz" filter="url(#bar0)"/>
<use href="#forest" filter="url(#rough)" stroke-width="3"/>
<use href="#bzf" filter="url(#barf0)"/>
<use href="#mang" filter="url(#rough)"/>
<use href="#uz" filter="url(#urb0)"/>
<use href="#core" filter="url(#rough2)"/>
<use href="#outl" fill="none" stroke="#ff1200" stroke-width="1.8" stroke-dasharray="1.5 4 2.5 6 1 3" stroke-opacity="0.60"/>
<use href="#nroad"/>
<use href="#streaks" opacity="0.55"/>
<use href="#wat"/>
</g></g></g>
<g clip-path="url(#pc1)"><g transform="translate(252.0 -6.5) scale(1.016 1.016)">
<use href="#main"/><use href="#smalls"/>
<text x="130" y="102.5" font-family="'Liberation Sans', sans-serif" font-size="2.6" font-weight="bold" fill="#bf9c74" fill-opacity="0.85" text-anchor="middle">Sirinat National<tspan x="130" dy="3.1">Park</tspan></text>
<use href="#outl" fill="#6da703"/>
<g clip-path="url(#isl)">
<use href="#outl" filter="url(#fsp1)"/>
<use href="#bz" filter="url(#bar1)"/>
<use href="#forest" filter="url(#rough)" stroke-width="3"/>
<use href="#bzf" filter="url(#barf1)"/>
<use href="#mang" filter="url(#rough)"/>
<use href="#uz" filter="url(#urb1)"/>
<use href="#core" filter="url(#rough2)"/>
<use href="#outl" fill="none" stroke="#ff1200" stroke-width="1.8" stroke-dasharray="1.5 4 2.5 6 1 3" stroke-opacity="0.65"/>
<use href="#nroad"/>
<use href="#streaks" opacity="0.61"/>
<use href="#thal" filter="url(#rough2)"/>
<use href="#wat"/>
</g></g></g>
<g clip-path="url(#pc2)"><g transform="translate(501.0 -10.3) scale(1.043 1.041)">
<use href="#main"/><use href="#smalls"/>
<text x="130" y="102.5" font-family="'Liberation Sans', sans-serif" font-size="2.6" font-weight="bold" fill="#bf9c74" fill-opacity="0.85" text-anchor="middle">Sirinat National<tspan x="130" dy="3.1">Park</tspan></text>
<use href="#outl" fill="#6da703"/>
<g clip-path="url(#isl)">
<use href="#outl" filter="url(#fsp2)"/>
<use href="#bz" filter="url(#bar2)"/>
<use href="#forest" filter="url(#rough)" stroke-width="3"/>
<use href="#bzf" filter="url(#barf2)"/>
<use href="#mang" filter="url(#rough)"/>
<use href="#uz" filter="url(#urb2)"/>
<use href="#core" filter="url(#rough2)"/>
<use href="#outl" fill="none" stroke="#ff1200" stroke-width="1.8" stroke-dasharray="1.5 4 2.5 6 1 3" stroke-opacity="0.70"/>
<use href="#nroad"/>
<use href="#streaks" opacity="0.67"/>
<use href="#thal" filter="url(#rough2)"/>
<use href="#wat"/>
</g></g></g>
<g clip-path="url(#pc3)"><g transform="translate(767.9 -9.45) scale(1.032 1.0325)">
<use href="#main"/><use href="#smalls"/>
<text x="130" y="102.5" font-family="'Liberation Sans', sans-serif" font-size="2.6" font-weight="bold" fill="#bf9c74" fill-opacity="0.85" text-anchor="middle">Sirinat National<tspan x="130" dy="3.1">Park</tspan></text>
<use href="#outl" fill="#6da703"/>
<g clip-path="url(#isl)">
<use href="#outl" filter="url(#fsp3)"/>
<use href="#bz" filter="url(#bar3)"/>
<use href="#forest" filter="url(#rough)" stroke-width="5.5"/>
<use href="#bzf" filter="url(#barf3)"/>
<use href="#mang" filter="url(#rough)"/>
<use href="#uz" filter="url(#urb3)"/>
<use href="#core" filter="url(#rough2)"/>
<use href="#outl" fill="none" stroke="#ff1200" stroke-width="1.8" stroke-dasharray="1.5 4 2.5 6 1 3" stroke-opacity="0.75"/>
<use href="#nroad"/>
<use href="#streaks" opacity="0.73"/>
<use href="#thal" filter="url(#rough2)"/>
<use href="#road"/>
<use href="#wat"/>
</g></g></g>
<g clip-path="url(#pc4)"><g transform="translate(-5.8 373.1) scale(1.0 1.012)">
<use href="#main"/><use href="#smalls"/>
<text x="130" y="102.5" font-family="'Liberation Sans', sans-serif" font-size="2.6" font-weight="bold" fill="#bf9c74" fill-opacity="0.85" text-anchor="middle">Sirinat National<tspan x="130" dy="3.1">Park</tspan></text>
<use href="#outl" fill="#6da703"/>
<g clip-path="url(#isl)">
<use href="#outl" filter="url(#fsp4)"/>
<use href="#bz" filter="url(#bar4)"/>
<use href="#forest" filter="url(#rough)" stroke-width="3"/>
<path filter="url(#rough)" fill="#738b45" d="M209.9 222.0C213.3 221.5 214.1 223.0 213.6 227.1C213.0 231.2 210.3 233.9 207.7 239.6C205.1 245.2 205.1 247.4 202.6 251.3C200.0 255.2 199.6 256.4 196.7 256.4C193.8 256.4 191.3 255.2 190.1 251.3C188.9 247.4 189.5 244.7 191.6 239.6C193.6 234.4 194.6 233.4 198.9 229.3C203.2 225.2 206.5 222.5 209.9 222.0Z"/>
<use href="#bzf" filter="url(#barf4)"/>
<use href="#mang" filter="url(#rough)"/>
<use href="#uz" filter="url(#urb4)"/>
<use href="#core" filter="url(#rough2)"/>
<use href="#outl" fill="none" stroke="#ff1200" stroke-width="1.8" stroke-dasharray="1.5 4 2.5 6 1 3" stroke-opacity="0.80"/>
<use href="#nroad"/>
<use href="#streaks" opacity="0.79"/>
<use href="#thal" filter="url(#rough2)"/>
<use href="#road"/>
<use href="#wat"/>
</g></g></g>
<g clip-path="url(#pc5)"><g transform="translate(250.8 373.0) scale(1.0 1.0144)">
<use href="#main"/><use href="#smalls"/>
<text x="130" y="102.5" font-family="'Liberation Sans', sans-serif" font-size="2.6" font-weight="bold" fill="#bf9c74" fill-opacity="0.85" text-anchor="middle">Sirinat National<tspan x="130" dy="3.1">Park</tspan></text>
<use href="#outl" fill="#6da703"/>
<g clip-path="url(#isl)">
<use href="#outl" filter="url(#fsp5)"/>
<use href="#bz" filter="url(#bar5)"/>
<use href="#forest" filter="url(#rough)" stroke-width="3"/>
<path filter="url(#rough)" fill="#738b45" d="M209.9 222.0C213.3 221.5 214.1 223.0 213.6 227.1C213.0 231.2 210.3 233.9 207.7 239.6C205.1 245.2 205.1 247.4 202.6 251.3C200.0 255.2 199.6 256.4 196.7 256.4C193.8 256.4 191.3 255.2 190.1 251.3C188.9 247.4 189.5 244.7 191.6 239.6C193.6 234.4 194.6 233.4 198.9 229.3C203.2 225.2 206.5 222.5 209.9 222.0Z"/>
<use href="#bzf" filter="url(#barf5)"/>
<use href="#mang" filter="url(#rough)"/>
<use href="#uz" filter="url(#urb5)"/>
<use href="#core" filter="url(#rough2)"/>
<use href="#outl" fill="none" stroke="#ff1200" stroke-width="1.8" stroke-dasharray="1.5 4 2.5 6 1 3" stroke-opacity="0.85"/>
<use href="#nroad"/>
<use href="#streaks" opacity="0.85"/>
<use href="#thal" filter="url(#rough2)"/>
<use href="#road"/>
<use href="#wat"/>
</g></g></g>
<g clip-path="url(#pc6)"><g transform="translate(513.1 372.1) scale(1.008 1.0218)">
<use href="#main"/><use href="#smalls"/>
<text x="130" y="102.5" font-family="'Liberation Sans', sans-serif" font-size="2.6" font-weight="bold" fill="#bf9c74" fill-opacity="0.85" text-anchor="middle">Sirinat National<tspan x="130" dy="3.1">Park</tspan></text>
<use href="#outl" fill="#6da703"/>
<g clip-path="url(#isl)">
<use href="#outl" filter="url(#fsp6)"/>
<use href="#bz" filter="url(#bar6)"/>
<use href="#forest" filter="url(#rough)" stroke-width="5.5"/>
<path filter="url(#rough)" fill="#738b45" d="M209.9 222.0C213.3 221.5 214.1 223.0 213.6 227.1C213.0 231.2 210.3 233.9 207.7 239.6C205.1 245.2 205.1 247.4 202.6 251.3C200.0 255.2 199.6 256.4 196.7 256.4C193.8 256.4 191.3 255.2 190.1 251.3C188.9 247.4 189.5 244.7 191.6 239.6C193.6 234.4 194.6 233.4 198.9 229.3C203.2 225.2 206.5 222.5 209.9 222.0Z"/>
<use href="#bzf" filter="url(#barf6)"/>
<use href="#mang" filter="url(#rough)"/>
<use href="#uz" filter="url(#urb6)"/>
<use href="#core" filter="url(#rough2)"/>
<use href="#outl" fill="none" stroke="#ff1200" stroke-width="1.8" stroke-dasharray="1.5 4 2.5 6 1 3" stroke-opacity="0.90"/>
<use href="#nroad"/>
<use href="#streaks" opacity="0.91"/>
<use href="#thal" filter="url(#rough2)"/>
<use href="#road"/>
<use href="#wat"/>
</g></g></g>
<g clip-path="url(#pc7)"><g transform="translate(779.7 374.0) scale(1.0 1.0068)">
<use href="#main"/><use href="#smalls"/>
<text x="130" y="102.5" font-family="'Liberation Sans', sans-serif" font-size="2.6" font-weight="bold" fill="#bf9c74" fill-opacity="0.85" text-anchor="middle">Sirinat National<tspan x="130" dy="3.1">Park</tspan></text>
<use href="#outl" fill="#6da703"/>
<g clip-path="url(#isl)">
<use href="#outl" filter="url(#fsp7)"/>
<use href="#bz" filter="url(#bar7)"/>
<use href="#forest" filter="url(#rough)" stroke-width="5.5"/>
<path filter="url(#rough)" fill="#738b45" d="M209.9 222.0C213.3 221.5 214.1 223.0 213.6 227.1C213.0 231.2 210.3 233.9 207.7 239.6C205.1 245.2 205.1 247.4 202.6 251.3C200.0 255.2 199.6 256.4 196.7 256.4C193.8 256.4 191.3 255.2 190.1 251.3C188.9 247.4 189.5 244.7 191.6 239.6C193.6 234.4 194.6 233.4 198.9 229.3C203.2 225.2 206.5 222.5 209.9 222.0Z"/>
<use href="#bzf" filter="url(#barf7)"/>
<use href="#mang" filter="url(#rough)"/>
<use href="#uz" filter="url(#urb7)"/>
<use href="#core" filter="url(#rough2)"/>
<use href="#outl" fill="none" stroke="#ff1200" stroke-width="1.8" stroke-dasharray="1.5 4 2.5 6 1 3" stroke-opacity="0.95"/>
<use href="#nroad"/>
<use href="#streaks" opacity="0.97"/>
<use href="#thal" filter="url(#rough2)"/>
<use href="#road"/>
<use href="#wat"/>
</g></g></g>
<g font-family="'Liberation Serif', serif" font-size="19.6" fill="#0a0a0a" stroke="#0a0a0a" stroke-width="0.3" text-anchor="middle">
<text x="231.6" y="367.5">1987-1990</text>
<text x="485.3" y="365.4">1991-1995</text>
<text x="742.3" y="369.6">1996-2000</text>
<text x="991.8" y="373.8">2001-2005</text>
<text x="219.2" y="746.3">2006-2010</text>
<text x="468.9" y="746.3">2011-2015</text>
<text x="735.0" y="746.3">2016-2020</text>
<text x="1000.6" y="745.6">2021-2024</text>
</g>
<g font-family="'Liberation Serif', serif" font-size="21.6" letter-spacing="0.18" fill="#111">
<rect x="1119" y="293.2" width="54" height="24.8" fill="#ff0000"/><text x="1184.6" y="311.7">Urban</text>
<rect x="1119" y="328.9" width="54" height="24.8" fill="#c528ff"/><text x="1184.6" y="347.4">Water</text>
<rect x="1119" y="364.8" width="54" height="24.8" fill="#6ea600"/><text x="1184.6" y="383.3">Agriculture</text>
<rect x="1119" y="400.6" width="54" height="24.8" fill="#728c44"/><text x="1184.6" y="419.1">Forest</text>
<rect x="1119" y="435.9" width="54" height="24.8" fill="#e1e1e1"/><text x="1184.6" y="454.4">Barren</text>
<rect x="1119" y="471.8" width="54" height="24.8" fill="#aaff00"/><text x="1184.6" y="490.3">Mangrove</text>
</g>
<g font-family="'Liberation Serif', serif" font-size="32" fill="#0a0a0a" text-anchor="middle">
<text x="670" y="813.8">(<tspan font-weight="bold">a</tspan>)</text>
<text x="670" y="1696.6">(<tspan font-weight="bold">b</tspan>)</text>
</g>
<g shape-rendering="crispEdges">
<rect x="134.50" y="1414.56" width="96.70" height="84.94" fill="#b03060"/>
<rect x="134.50" y="1402.43" width="96.70" height="12.13" fill="#9966cc"/>
<rect x="134.50" y="1113.66" width="96.70" height="288.76" fill="#92a56e"/>
<rect x="134.50" y="963.95" width="96.70" height="149.72" fill="#8a9a5b"/>
<rect x="134.50" y="950.00" width="96.70" height="13.95" fill="#b2b2b2"/>
<rect x="134.50" y="913.30" width="96.70" height="36.70" fill="#e6e200"/>
<rect x="255.06" y="1402.78" width="96.70" height="96.72" fill="#b03060"/>
<rect x="255.06" y="1388.88" width="96.70" height="13.89" fill="#9966cc"/>
<rect x="255.06" y="1131.25" width="96.70" height="257.63" fill="#92a56e"/>
<rect x="255.06" y="975.67" width="96.70" height="155.58" fill="#8a9a5b"/>
<rect x="255.06" y="948.53" width="96.70" height="27.14" fill="#b2b2b2"/>
<rect x="255.06" y="913.30" width="96.70" height="35.23" fill="#e6e200"/>
<rect x="375.62" y="1398.79" width="96.70" height="100.71" fill="#b03060"/>
<rect x="375.62" y="1385.19" width="96.70" height="13.60" fill="#9966cc"/>
<rect x="375.62" y="1137.52" width="96.70" height="247.67" fill="#92a56e"/>
<rect x="375.62" y="990.74" width="96.70" height="146.78" fill="#8a9a5b"/>
<rect x="375.62" y="951.81" width="96.70" height="38.92" fill="#b2b2b2"/>
<rect x="375.62" y="913.30" width="96.70" height="38.51" fill="#e6e200"/>
<rect x="496.18" y="1393.98" width="96.70" height="105.52" fill="#b03060"/>
<rect x="496.18" y="1379.68" width="96.70" height="14.30" fill="#9966cc"/>
<rect x="496.18" y="1125.39" width="96.70" height="254.29" fill="#92a56e"/>
<rect x="496.18" y="979.36" width="96.70" height="146.02" fill="#8a9a5b"/>
<rect x="496.18" y="941.91" width="96.70" height="37.46" fill="#b2b2b2"/>
<rect x="496.18" y="913.30" width="96.70" height="28.61" fill="#e6e200"/>
<rect x="616.74" y="1385.07" width="96.70" height="114.43" fill="#b03060"/>
<rect x="616.74" y="1369.36" width="96.70" height="15.71" fill="#9966cc"/>
<rect x="616.74" y="1127.97" width="96.70" height="241.40" fill="#92a56e"/>
<rect x="616.74" y="980.42" width="96.70" height="147.55" fill="#8a9a5b"/>
<rect x="616.74" y="947.42" width="96.70" height="33.00" fill="#b2b2b2"/>
<rect x="616.74" y="913.30" width="96.70" height="34.12" fill="#e6e200"/>
<rect x="737.30" y="1385.07" width="96.70" height="114.43" fill="#b03060"/>
<rect x="737.30" y="1369.36" width="96.70" height="15.71" fill="#9966cc"/>
<rect x="737.30" y="1111.44" width="96.70" height="257.93" fill="#92a56e"/>
<rect x="737.30" y="1000.23" width="96.70" height="111.20" fill="#8a9a5b"/>
<rect x="737.30" y="944.13" width="96.70" height="56.10" fill="#b2b2b2"/>
<rect x="737.30" y="913.30" width="96.70" height="30.83" fill="#e6e200"/>
<rect x="857.86" y="1403.25" width="96.70" height="96.25" fill="#b03060"/>
<rect x="857.86" y="1389.12" width="96.70" height="14.13" fill="#9966cc"/>
<rect x="857.86" y="1076.97" width="96.70" height="312.15" fill="#92a56e"/>
<rect x="857.86" y="962.48" width="96.70" height="114.48" fill="#8a9a5b"/>
<rect x="857.86" y="941.91" width="96.70" height="20.58" fill="#b2b2b2"/>
<rect x="857.86" y="913.30" width="96.70" height="28.61" fill="#e6e200"/>
<rect x="978.42" y="1389.12" width="96.70" height="110.38" fill="#b03060"/>
<rect x="978.42" y="1372.59" width="96.70" height="16.53" fill="#9966cc"/>
<rect x="978.42" y="1071.46" width="96.70" height="301.13" fill="#92a56e"/>
<rect x="978.42" y="952.58" width="96.70" height="118.88" fill="#8a9a5b"/>
<rect x="978.42" y="937.86" width="96.70" height="14.71" fill="#b2b2b2"/>
<rect x="978.42" y="913.30" width="96.70" height="24.56" fill="#e6e200"/>
</g>
<g stroke="#b0b0b0" stroke-opacity="0.55" stroke-width="1.2" stroke-dasharray="4.1 1.75" fill="none">
<path d="M89 1382.26H1123"/>
<path d="M89 1265.02H1123"/>
<path d="M89 1147.78H1123"/>
<path d="M89 1030.54H1123"/>
<path d="M89 913.30H1123"/>
<path d="M182.55 1499.5V882.5"/>
<path d="M303.11 1499.5V882.5"/>
<path d="M423.67 1499.5V882.5"/>
<path d="M544.23 1499.5V882.5"/>
<path d="M664.79 1499.5V882.5"/>
<path d="M785.35 1499.5V882.5"/>
<path d="M905.91 1499.5V882.5"/>
<path d="M1026.47 1499.5V882.5"/>
</g>
<g stroke="#3c3c3c" stroke-width="2.2" fill="none">
<path d="M88.4 882.4V1500.6"/><path d="M87.4 1499.6H1123.3"/>
<path d="M88.4 1499.50h6.6"/>
<path d="M88.4 1382.26h6.6"/>
<path d="M88.4 1265.02h6.6"/>
<path d="M88.4 1147.78h6.6"/>
<path d="M88.4 1030.54h6.6"/>
<path d="M88.4 913.30h6.6"/>
<path d="M182.55 1499.6v-6.5"/>
<path d="M303.11 1499.6v-6.5"/>
<path d="M423.67 1499.6v-6.5"/>
<path d="M544.23 1499.6v-6.5"/>
<path d="M664.79 1499.6v-6.5"/>
<path d="M785.35 1499.6v-6.5"/>
<path d="M905.91 1499.6v-6.5"/>
<path d="M1026.47 1499.6v-6.5"/>
</g>
<g font-family="'DejaVu Sans', 'Liberation Sans', sans-serif" fill="#262626">
<text x="604.1" y="872.3" font-size="29.65" text-anchor="middle" fill="#3a3a3a">Phuket LULC Changes</text>
<text x="81.8" y="1508.80" font-size="22.9" text-anchor="end">0</text>
<text x="81.8" y="1391.56" font-size="22.9" text-anchor="end">20</text>
<text x="81.8" y="1274.32" font-size="22.9" text-anchor="end">40</text>
<text x="81.8" y="1157.08" font-size="22.9" text-anchor="end">60</text>
<text x="81.8" y="1039.84" font-size="22.9" text-anchor="end">80</text>
<text x="81.8" y="922.60" font-size="22.9" text-anchor="end">100</text>
<text transform="translate(181.45 1557.30) rotate(-45)" font-size="22.35" text-anchor="middle" y="8.15">1987-1990</text>
<text transform="translate(302.01 1557.30) rotate(-45)" font-size="22.35" text-anchor="middle" y="8.15">1991-1995</text>
<text transform="translate(422.57 1557.30) rotate(-45)" font-size="22.35" text-anchor="middle" y="8.15">1996-2000</text>
<text transform="translate(543.13 1557.30) rotate(-45)" font-size="22.35" text-anchor="middle" y="8.15">2001-2005</text>
<text transform="translate(663.69 1557.30) rotate(-45)" font-size="22.35" text-anchor="middle" y="8.15">2006-2010</text>
<text transform="translate(784.25 1557.30) rotate(-45)" font-size="22.35" text-anchor="middle" y="8.15">2011-2015</text>
<text transform="translate(904.81 1557.30) rotate(-45)" font-size="22.35" text-anchor="middle" y="8.15">2016-2020</text>
<text transform="translate(1025.37 1557.30) rotate(-45)" font-size="22.35" text-anchor="middle" y="8.15">2021-2024</text>
<text x="605.2" y="1632.9" font-size="22" text-anchor="middle">Year</text>
<text transform="translate(25.5 1192.7) rotate(-90)" font-size="22.45" text-anchor="middle">Percentage (%)</text>
<rect x="1162" y="1123.2" width="49.1" height="19.6" fill="#b03060"/>
<text x="1228.6" y="1140.90" font-size="25.8" textLength="70.20" lengthAdjust="spacingAndGlyphs" font-family="'DejaVu Sans Condensed', 'DejaVu Sans', sans-serif" fill="#2e2e2e">Urban</text>
<rect x="1162" y="1160.1" width="49.1" height="19.6" fill="#9966cc"/>
<text x="1228.6" y="1177.80" font-size="25.8" textLength="68.44" lengthAdjust="spacingAndGlyphs" font-family="'DejaVu Sans Condensed', 'DejaVu Sans', sans-serif" fill="#2e2e2e">Water</text>
<rect x="1162" y="1197.1" width="49.1" height="19.6" fill="#92a56e"/>
<text x="1228.6" y="1214.80" font-size="25.8" textLength="127.58" lengthAdjust="spacingAndGlyphs" font-family="'DejaVu Sans Condensed', 'DejaVu Sans', sans-serif" fill="#2e2e2e">Agriculture</text>
<rect x="1162" y="1233.9" width="49.1" height="19.6" fill="#8a9a5b"/>
<text x="1228.6" y="1251.60" font-size="25.8" textLength="71.08" lengthAdjust="spacingAndGlyphs" font-family="'DejaVu Sans Condensed', 'DejaVu Sans', sans-serif" fill="#2e2e2e">Forest</text>
<rect x="1162" y="1270.2" width="49.1" height="19.6" fill="#b2b2b2"/>
<text x="1228.6" y="1287.90" font-size="25.8" textLength="77.20" lengthAdjust="spacingAndGlyphs" font-family="'DejaVu Sans Condensed', 'DejaVu Sans', sans-serif" fill="#2e2e2e">Barren</text>
<rect x="1162" y="1306.9" width="49.1" height="19.6" fill="#e6e200"/>
<text x="1228.6" y="1324.60" font-size="25.8" textLength="114.89" lengthAdjust="spacingAndGlyphs" font-family="'DejaVu Sans Condensed', 'DejaVu Sans', sans-serif" fill="#2e2e2e">Mangrove</text>
</g>
</svg></body></html>
